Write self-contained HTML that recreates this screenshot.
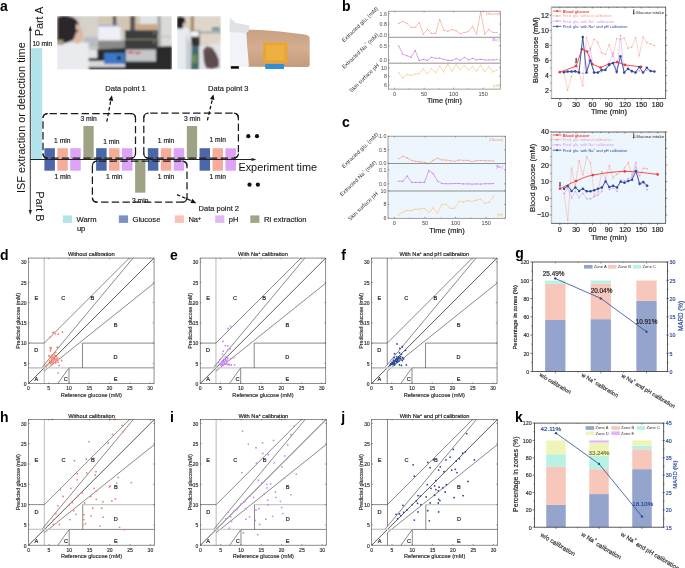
<!DOCTYPE html>
<html><head><meta charset="utf-8"><style>
html,body{margin:0;padding:0;background:#fff;}
body{width:685px;height:568px;overflow:hidden;}
svg{display:block;font-family:"Liberation Sans", sans-serif;will-change:transform;}
</style></head><body>
<svg width="685" height="568" viewBox="0 0 685 568">
<defs>
<filter id="bl" x="-5%" y="-5%" width="110%" height="110%"><feGaussianBlur stdDeviation="0.8"/></filter>
<filter id="bl2" x="-5%" y="-5%" width="110%" height="110%"><feGaussianBlur stdDeviation="0.5"/></filter>
<clipPath id="cp1"><rect x="57" y="16" width="115" height="53.5"/></clipPath>
<clipPath id="cp2"><rect x="177" y="16" width="44" height="53.5"/></clipPath>
</defs>
<text x="0.00" y="11.20" font-size="14" text-anchor="start" fill="#000" font-weight="bold">a</text>
<g clip-path="url(#cp1)"><g filter="url(#bl)">
<rect x="57.00" y="16.00" width="115.00" height="54.00" fill="#cfcac2"/>
<rect x="80.00" y="16.00" width="18.00" height="30.00" fill="#d6d2ca"/>
<rect x="98.20" y="16.00" width="59.40" height="15.00" fill="#d1c7b2"/>
<rect x="140.00" y="16.00" width="17.00" height="12.00" fill="#dfe3e6"/>
<rect x="136.00" y="24.00" width="21.00" height="6.00" fill="#c9a98a"/>
<rect x="112.80" y="16.00" width="3.50" height="15.00" fill="#5e574f"/>
<rect x="130.00" y="16.00" width="5.20" height="15.00" fill="#5e574f"/>
<rect x="157.60" y="16.00" width="14.20" height="46.00" fill="#dadad8"/>
<rect x="157.60" y="16.00" width="3.20" height="46.00" fill="#a4a4a2"/>
<rect x="157.60" y="36.00" width="14.20" height="1.20" fill="#bcbcba"/>
<rect x="98.20" y="25.30" width="22.40" height="15.50" fill="#eef0f6"/>
<rect x="98.20" y="25.30" width="22.40" height="1.00" fill="#6c8fd0"/>
<rect x="98.20" y="40.50" width="27.00" height="9.00" fill="#8a8a88"/>
<rect x="84.00" y="37.00" width="14.00" height="10.00" fill="#b8bcc4"/>
<path d="M85,50 L172,46 L172,70 L85,70 Z" fill="#2b2b2b"/>
<rect x="87.00" y="61.00" width="38.00" height="6.00" fill="#d8d8d8"/>
<rect x="124.90" y="30.20" width="32.70" height="19.30" fill="#3d3d3d"/>
<rect x="124.90" y="38.80" width="32.70" height="1.30" fill="#857b6b"/>
<circle cx="154.00" cy="33.00" r="0.9" fill="#4fb36b"/>
<circle cx="154.00" cy="42.00" r="0.9" fill="#4fb36b"/>
<rect x="125.80" y="49.50" width="30.10" height="12.00" fill="#c3c7cb"/>
<rect x="128.00" y="51.50" width="5.50" height="1.90" fill="#d43a3a"/>
<rect x="135.00" y="52.00" width="5.50" height="1.90" fill="#d43a3a"/>
<rect x="104.20" y="52.90" width="20.70" height="11.20" fill="#3a78c8"/>
<circle cx="118.90" cy="58.10" r="2.0" fill="#1c1c1c"/>
<rect x="57.00" y="42.60" width="31.70" height="27.40" fill="#e9ebef"/>
<rect x="88.00" y="49.50" width="9.30" height="8.50" fill="#e4e6ea"/>
<path d="M57.4,17 Q64,15 72,17 Q79,20 79,27 L77,34 L73,40 L66,43 L57.4,44 Z" fill="#29262a"/>
<path d="M76,24 Q81,25 82.5,31 L83,38 Q81,43 77,44 L73,41 L76,33 Z" fill="#d9b8a4"/>
<circle cx="77.00" cy="31.00" r="1.3" fill="#3a3a3a"/>
<rect x="57.40" y="40.00" width="6.00" height="5.00" fill="#a89a86"/>
</g></g>
<g clip-path="url(#cp2)"><g filter="url(#bl)">
<rect x="177.00" y="16.00" width="44.00" height="54.00" fill="#d9d1c2"/>
<rect x="193.90" y="16.00" width="27.10" height="28.00" fill="#ddd6c9"/>
<rect x="190.80" y="16.00" width="3.10" height="15.00" fill="#a98358"/>
<rect x="212.00" y="27.00" width="8.00" height="4.00" fill="#7f9c98"/>
<rect x="197.00" y="31.50" width="24.00" height="1.80" fill="#9ea2a2"/>
<rect x="189.60" y="30.60" width="10.00" height="7.00" fill="#3c3f44"/>
<rect x="190.40" y="31.20" width="8.40" height="5.40" fill="#f4f5f7"/>
<rect x="189.30" y="37.50" width="10.40" height="9.20" fill="#2e3032"/>
<rect x="190.00" y="46.70" width="9.50" height="23.00" fill="#456b6c"/>
<rect x="192.00" y="55.00" width="5.00" height="8.00" fill="#6e8e4e"/>
<path d="M199,46 L221,43 L221,70 L199,70 Z" fill="#e3e3e7"/>
<path d="M203,50 L207,46.5 L212,47.5 L216,53 L219,60 L219,67 L212,69 L206,68 L204,62 Z" fill="#5b4b4f"/>
<ellipse cx="207.5" cy="49" rx="3" ry="2.6" fill="#6d5545"/>
<path d="M177,28.5 L186,27 L190,30 L191.5,45 L191,70 L177,70 Z" fill="#e7eaef"/>
<path d="M186,34 L191.5,45 L191,70 L186,70 Z" fill="#c9ced6"/>
<path d="M177,17 Q181,15.5 185,18 L185.5,25 L182,28.5 L177,28.5 Z" fill="#1f1f21"/>
<ellipse cx="184.5" cy="25" rx="1.8" ry="2.6" fill="#d9c2b3"/>
</g></g>
<g filter="url(#bl2)">
<defs><linearGradient id="skin" x1="0" y1="0" x2="0" y2="1"><stop offset="0" stop-color="#c9a082"/><stop offset="0.5" stop-color="#d4ae91"/><stop offset="1" stop-color="#c39a7c"/></linearGradient></defs>
<path d="M246,29.5 C262,29.8 285,31.5 303,34.2 Q309.5,34.8 309.7,38 L309.7,65.5 Q309,67.5 305,67 L248,66.8 Z" fill="url(#skin)"/>
<path d="M229.8,18 L236,23 L249.5,25.5 L248.5,31 L246,33 L249,66.5 L229.8,66.8 Z" fill="#f1f3f6"/>
<path d="M229.8,18 L236,23 L249.5,25.5 L248.5,31 L246,33 L229.8,32 Z" fill="#dfe2e6"/>
<rect x="263.20" y="42.40" width="24.30" height="20.90" fill="#e9a530" rx="0.8"/>
<rect x="266.00" y="45.00" width="18.50" height="15.00" fill="#eeb041" rx="0.8"/>
<rect x="265.10" y="64.00" width="19.00" height="5.10" fill="#2f8fd6" rx="1"/>
</g>
<rect x="230.80" y="66.20" width="8.10" height="2.50" fill="#000"/>
<line x1="30.30" y1="28.50" x2="30.30" y2="212.50" stroke="#222" stroke-width="0.9"/>
<polygon points="30.30,25.80 31.90,30.80 28.70,30.80" fill="#222"/>
<polygon points="30.30,215.00 28.70,210.00 31.90,210.00" fill="#222"/>
<rect x="31.20" y="48.20" width="11.00" height="111.30" fill="#b3e3ea"/>
<line x1="30.30" y1="159.50" x2="253.00" y2="159.50" stroke="#222" stroke-width="1.0"/>
<polygon points="256.50,159.50 251.50,161.10 251.50,157.90" fill="#222"/>
<rect x="44.40" y="148.20" width="10.50" height="22.50" fill="#4c67a8"/>
<rect x="57.33" y="148.20" width="10.50" height="22.50" fill="#f5ac9b"/>
<rect x="70.26" y="148.20" width="10.50" height="22.50" fill="#dea3f5"/>
<rect x="83.39" y="126.00" width="10.30" height="33.50" fill="#9fa385"/>
<rect x="96.12" y="148.20" width="10.50" height="22.50" fill="#4c67a8"/>
<rect x="109.05" y="148.20" width="10.50" height="22.50" fill="#f5ac9b"/>
<rect x="121.98" y="148.20" width="10.50" height="22.50" fill="#dea3f5"/>
<rect x="135.11" y="159.50" width="10.30" height="33.20" fill="#9fa385"/>
<rect x="147.84" y="148.20" width="10.50" height="22.50" fill="#4c67a8"/>
<rect x="160.77" y="148.20" width="10.50" height="22.50" fill="#f5ac9b"/>
<rect x="173.70" y="148.20" width="10.50" height="22.50" fill="#dea3f5"/>
<rect x="186.83" y="126.00" width="10.30" height="33.50" fill="#9fa385"/>
<rect x="199.56" y="148.20" width="10.50" height="22.50" fill="#4c67a8"/>
<rect x="212.49" y="148.20" width="10.50" height="22.50" fill="#f5ac9b"/>
<rect x="225.42" y="148.20" width="10.50" height="22.50" fill="#dea3f5"/>
<line x1="30.30" y1="159.50" x2="253.00" y2="159.50" stroke="#222" stroke-width="1.0"/>
<text x="62.28" y="143.10" font-size="6.7" text-anchor="middle" fill="#222" stroke="#222" stroke-width="0.18">1 min</text>
<text x="62.58" y="179.10" font-size="6.7" text-anchor="middle" fill="#222" stroke="#222" stroke-width="0.18">1 min</text>
<text x="111.40" y="143.80" font-size="6.7" text-anchor="middle" fill="#222" stroke="#222" stroke-width="0.18">1 min</text>
<text x="114.30" y="179.10" font-size="6.7" text-anchor="middle" fill="#222" stroke="#222" stroke-width="0.18">1 min</text>
<text x="166.02" y="142.60" font-size="6.7" text-anchor="middle" fill="#222" stroke="#222" stroke-width="0.18">1 min</text>
<text x="166.02" y="179.10" font-size="6.7" text-anchor="middle" fill="#222" stroke="#222" stroke-width="0.18">1 min</text>
<text x="217.74" y="142.40" font-size="6.7" text-anchor="middle" fill="#222" stroke="#222" stroke-width="0.18">1 min</text>
<text x="217.74" y="179.10" font-size="6.7" text-anchor="middle" fill="#222" stroke="#222" stroke-width="0.18">1 min</text>
<text x="88.60" y="121.30" font-size="6.7" text-anchor="middle" fill="#222" stroke="#222" stroke-width="0.18">3 min</text>
<text x="192.20" y="121.30" font-size="6.7" text-anchor="middle" fill="#222" stroke="#222" stroke-width="0.18">3 min</text>
<text x="140.20" y="203.00" font-size="6.7" text-anchor="middle" fill="#222" stroke="#222" stroke-width="0.18">3 min</text>
<text x="32.40" y="46.10" font-size="6.6" text-anchor="start" fill="#222" stroke="#222" stroke-width="0.18">10 min</text>
<rect x="43.0" y="113.5" width="92.5" height="44.6" rx="4.5" stroke="#1a1a1a" stroke-width="1.25" stroke-dasharray="7.4 3.3" stroke-dashoffset="-2" fill="none"/>
<path d="M43.00,118.00 C43.00,115.51 45.01,113.50 47.50,113.50" stroke="#1a1a1a" stroke-width="1.25" fill="none"/>
<path d="M135.50,118.00 C135.50,115.51 133.49,113.50 131.00,113.50" stroke="#1a1a1a" stroke-width="1.25" fill="none"/>
<path d="M43.00,153.60 C43.00,156.09 45.01,158.10 47.50,158.10" stroke="#1a1a1a" stroke-width="1.25" fill="none"/>
<path d="M135.50,153.60 C135.50,156.09 133.49,158.10 131.00,158.10" stroke="#1a1a1a" stroke-width="1.25" fill="none"/>
<rect x="143.8" y="113.2" width="94.6" height="44.8" rx="4.5" stroke="#1a1a1a" stroke-width="1.25" stroke-dasharray="7.4 3.3" stroke-dashoffset="-2" fill="none"/>
<path d="M143.80,117.70 C143.80,115.21 145.81,113.20 148.30,113.20" stroke="#1a1a1a" stroke-width="1.25" fill="none"/>
<path d="M238.40,117.70 C238.40,115.21 236.39,113.20 233.90,113.20" stroke="#1a1a1a" stroke-width="1.25" fill="none"/>
<path d="M143.80,153.50 C143.80,155.99 145.81,158.00 148.30,158.00" stroke="#1a1a1a" stroke-width="1.25" fill="none"/>
<path d="M238.40,153.50 C238.40,155.99 236.39,158.00 233.90,158.00" stroke="#1a1a1a" stroke-width="1.25" fill="none"/>
<rect x="92.4" y="161.2" width="94.6" height="40.9" rx="4.5" stroke="#1a1a1a" stroke-width="1.25" stroke-dasharray="7.4 3.3" stroke-dashoffset="-2" fill="none"/>
<path d="M92.40,165.70 C92.40,163.21 94.41,161.20 96.90,161.20" stroke="#1a1a1a" stroke-width="1.25" fill="none"/>
<path d="M187.00,165.70 C187.00,163.21 184.99,161.20 182.50,161.20" stroke="#1a1a1a" stroke-width="1.25" fill="none"/>
<path d="M92.40,197.60 C92.40,200.09 94.41,202.10 96.90,202.10" stroke="#1a1a1a" stroke-width="1.25" fill="none"/>
<path d="M187.00,197.60 C187.00,200.09 184.99,202.10 182.50,202.10" stroke="#1a1a1a" stroke-width="1.25" fill="none"/>
<line x1="106.80" y1="121.70" x2="110.80" y2="100.50" stroke="#111" stroke-width="1.25" stroke-dasharray="3.5 2.2"/>
<polygon points="111.90,95.20 113.12,101.04 108.60,100.17" fill="#111"/>
<line x1="207.40" y1="120.40" x2="212.30" y2="99.50" stroke="#111" stroke-width="1.25" stroke-dasharray="3.5 2.2"/>
<polygon points="213.40,94.20 214.41,100.07 209.93,99.05" fill="#111"/>
<line x1="177.00" y1="194.60" x2="191.50" y2="200.80" stroke="#111" stroke-width="1.25" stroke-dasharray="3.5 2.2"/>
<polygon points="196.40,203.20 190.44,203.07 192.30,198.87" fill="#111"/>
<text x="105.30" y="90.80" font-size="7.5" text-anchor="start" fill="#222" stroke="#222" stroke-width="0.18">Data point 1</text>
<text x="208.10" y="90.80" font-size="7.5" text-anchor="start" fill="#222" stroke="#222" stroke-width="0.18">Data point 3</text>
<text x="198.60" y="210.80" font-size="7.5" text-anchor="start" fill="#222" stroke="#222" stroke-width="0.18">Data point 2</text>
<circle cx="248.30" cy="136.20" r="2.1" fill="#111"/>
<circle cx="257.00" cy="136.20" r="2.1" fill="#111"/>
<circle cx="249.50" cy="184.70" r="2.1" fill="#111"/>
<circle cx="257.90" cy="184.70" r="2.1" fill="#111"/>
<text x="238.40" y="171.00" font-size="10.9" text-anchor="start" fill="#111">Experiment time</text>
<text x="24.60" y="117.60" font-size="10.9" text-anchor="middle" fill="#111" transform="rotate(-90 24.60 117.60)">ISF extraction or detection time</text>
<text x="43.00" y="21.50" font-size="10.9" text-anchor="middle" fill="#111" transform="rotate(-90 43.00 21.50)">Part A</text>
<text x="35.60" y="206.50" font-size="10.9" text-anchor="middle" fill="#111" transform="rotate(90 35.60 206.50)">Part B</text>
<rect x="62.90" y="215.40" width="9.10" height="7.50" fill="#b3e3ea"/>
<text x="76.50" y="222.40" font-size="7.6" text-anchor="start" fill="#222" stroke="#222" stroke-width="0.18">Warm</text>
<rect x="118.90" y="215.40" width="9.10" height="7.50" fill="#7d8fc3"/>
<text x="132.50" y="222.40" font-size="7.6" text-anchor="start" fill="#222" stroke="#222" stroke-width="0.18">Glucose</text>
<rect x="174.80" y="215.40" width="9.10" height="7.50" fill="#f7c3b7"/>
<text x="188.40" y="222.40" font-size="7.6" text-anchor="start" fill="#222" stroke="#222" stroke-width="0.18">Na<tspan font-size="5" dy="-2.5">+</tspan></text>
<rect x="215.20" y="215.40" width="9.10" height="7.50" fill="#e3b7f5"/>
<text x="228.80" y="222.40" font-size="7.6" text-anchor="start" fill="#222" stroke="#222" stroke-width="0.18">pH</text>
<rect x="250.30" y="215.40" width="9.10" height="7.50" fill="#a1a586"/>
<text x="263.90" y="222.40" font-size="7.6" text-anchor="start" fill="#222" stroke="#222" stroke-width="0.18">RI extraction</text>
<text x="76.90" y="230.60" font-size="7.6" text-anchor="start" fill="#222" stroke="#222" stroke-width="0.18">up</text>
<text x="342.00" y="11.20" font-size="14" text-anchor="start" fill="#000" font-weight="bold">b</text>
<polyline points="398.70,23.40 402.80,21.30 406.90,23.40 411.00,27.30 415.10,27.30 419.20,22.50 423.30,34.30 427.40,29.40 431.50,33.40 435.60,33.40 439.70,19.40 443.80,30.20 447.90,31.30 452.00,29.50 456.10,30.80 460.20,33.70 464.30,32.50 468.40,31.60 472.50,26.40 476.60,34.30 480.70,11.50 484.80,34.30 488.90,29.40 493.00,32.50 497.10,32.50" fill="none" stroke="#f49784" stroke-width="0.6"/>
<circle cx="398.70" cy="23.40" r="0.55" fill="#f49784"/>
<circle cx="402.80" cy="21.30" r="0.55" fill="#f49784"/>
<circle cx="406.90" cy="23.40" r="0.55" fill="#f49784"/>
<circle cx="411.00" cy="27.30" r="0.55" fill="#f49784"/>
<circle cx="415.10" cy="27.30" r="0.55" fill="#f49784"/>
<circle cx="419.20" cy="22.50" r="0.55" fill="#f49784"/>
<circle cx="423.30" cy="34.30" r="0.55" fill="#f49784"/>
<circle cx="427.40" cy="29.40" r="0.55" fill="#f49784"/>
<circle cx="431.50" cy="33.40" r="0.55" fill="#f49784"/>
<circle cx="435.60" cy="33.40" r="0.55" fill="#f49784"/>
<circle cx="439.70" cy="19.40" r="0.55" fill="#f49784"/>
<circle cx="443.80" cy="30.20" r="0.55" fill="#f49784"/>
<circle cx="447.90" cy="31.30" r="0.55" fill="#f49784"/>
<circle cx="452.00" cy="29.50" r="0.55" fill="#f49784"/>
<circle cx="456.10" cy="30.80" r="0.55" fill="#f49784"/>
<circle cx="460.20" cy="33.70" r="0.55" fill="#f49784"/>
<circle cx="464.30" cy="32.50" r="0.55" fill="#f49784"/>
<circle cx="468.40" cy="31.60" r="0.55" fill="#f49784"/>
<circle cx="472.50" cy="26.40" r="0.55" fill="#f49784"/>
<circle cx="476.60" cy="34.30" r="0.55" fill="#f49784"/>
<circle cx="480.70" cy="11.50" r="0.55" fill="#f49784"/>
<circle cx="484.80" cy="34.30" r="0.55" fill="#f49784"/>
<circle cx="488.90" cy="29.40" r="0.55" fill="#f49784"/>
<circle cx="493.00" cy="32.50" r="0.55" fill="#f49784"/>
<circle cx="497.10" cy="32.50" r="0.55" fill="#f49784"/>
<polyline points="398.70,45.90 402.80,54.30 406.90,55.70 411.00,57.40 415.10,50.40 419.20,60.40 423.30,59.50 427.40,60.40 431.50,57.20 435.60,58.30 439.70,58.10 443.80,59.50 447.90,60.40 452.00,60.40 456.10,58.60 460.20,60.40 464.30,57.20 468.40,60.00 472.50,58.30 476.60,60.00 480.70,59.20 484.80,60.00 488.90,59.90 493.00,59.90 497.10,59.50" fill="none" stroke="#c466f2" stroke-width="0.6"/>
<circle cx="398.70" cy="45.90" r="0.55" fill="#c466f2"/>
<circle cx="402.80" cy="54.30" r="0.55" fill="#c466f2"/>
<circle cx="406.90" cy="55.70" r="0.55" fill="#c466f2"/>
<circle cx="411.00" cy="57.40" r="0.55" fill="#c466f2"/>
<circle cx="415.10" cy="50.40" r="0.55" fill="#c466f2"/>
<circle cx="419.20" cy="60.40" r="0.55" fill="#c466f2"/>
<circle cx="423.30" cy="59.50" r="0.55" fill="#c466f2"/>
<circle cx="427.40" cy="60.40" r="0.55" fill="#c466f2"/>
<circle cx="431.50" cy="57.20" r="0.55" fill="#c466f2"/>
<circle cx="435.60" cy="58.30" r="0.55" fill="#c466f2"/>
<circle cx="439.70" cy="58.10" r="0.55" fill="#c466f2"/>
<circle cx="443.80" cy="59.50" r="0.55" fill="#c466f2"/>
<circle cx="447.90" cy="60.40" r="0.55" fill="#c466f2"/>
<circle cx="452.00" cy="60.40" r="0.55" fill="#c466f2"/>
<circle cx="456.10" cy="58.60" r="0.55" fill="#c466f2"/>
<circle cx="460.20" cy="60.40" r="0.55" fill="#c466f2"/>
<circle cx="464.30" cy="57.20" r="0.55" fill="#c466f2"/>
<circle cx="468.40" cy="60.00" r="0.55" fill="#c466f2"/>
<circle cx="472.50" cy="58.30" r="0.55" fill="#c466f2"/>
<circle cx="476.60" cy="60.00" r="0.55" fill="#c466f2"/>
<circle cx="480.70" cy="59.20" r="0.55" fill="#c466f2"/>
<circle cx="484.80" cy="60.00" r="0.55" fill="#c466f2"/>
<circle cx="488.90" cy="59.90" r="0.55" fill="#c466f2"/>
<circle cx="493.00" cy="59.90" r="0.55" fill="#c466f2"/>
<circle cx="497.10" cy="59.50" r="0.55" fill="#c466f2"/>
<polyline points="398.70,72.60 402.80,78.00 406.90,74.50 411.00,75.40 415.10,74.00 419.20,73.70 423.30,68.80 427.40,73.70 431.50,68.40 435.60,72.80 439.70,66.10 443.80,71.90 447.90,63.90 452.00,70.90 456.10,64.70 460.20,69.60 464.30,65.30 468.40,70.00 472.50,66.50 476.60,70.90 480.70,65.30 484.80,71.70 488.90,66.50 493.00,71.90 497.10,70.00" fill="none" stroke="#f8c26c" stroke-width="0.6"/>
<circle cx="398.70" cy="72.60" r="0.55" fill="#f8c26c"/>
<circle cx="402.80" cy="78.00" r="0.55" fill="#f8c26c"/>
<circle cx="406.90" cy="74.50" r="0.55" fill="#f8c26c"/>
<circle cx="411.00" cy="75.40" r="0.55" fill="#f8c26c"/>
<circle cx="415.10" cy="74.00" r="0.55" fill="#f8c26c"/>
<circle cx="419.20" cy="73.70" r="0.55" fill="#f8c26c"/>
<circle cx="423.30" cy="68.80" r="0.55" fill="#f8c26c"/>
<circle cx="427.40" cy="73.70" r="0.55" fill="#f8c26c"/>
<circle cx="431.50" cy="68.40" r="0.55" fill="#f8c26c"/>
<circle cx="435.60" cy="72.80" r="0.55" fill="#f8c26c"/>
<circle cx="439.70" cy="66.10" r="0.55" fill="#f8c26c"/>
<circle cx="443.80" cy="71.90" r="0.55" fill="#f8c26c"/>
<circle cx="447.90" cy="63.90" r="0.55" fill="#f8c26c"/>
<circle cx="452.00" cy="70.90" r="0.55" fill="#f8c26c"/>
<circle cx="456.10" cy="64.70" r="0.55" fill="#f8c26c"/>
<circle cx="460.20" cy="69.60" r="0.55" fill="#f8c26c"/>
<circle cx="464.30" cy="65.30" r="0.55" fill="#f8c26c"/>
<circle cx="468.40" cy="70.00" r="0.55" fill="#f8c26c"/>
<circle cx="472.50" cy="66.50" r="0.55" fill="#f8c26c"/>
<circle cx="476.60" cy="70.90" r="0.55" fill="#f8c26c"/>
<circle cx="480.70" cy="65.30" r="0.55" fill="#f8c26c"/>
<circle cx="484.80" cy="71.70" r="0.55" fill="#f8c26c"/>
<circle cx="488.90" cy="66.50" r="0.55" fill="#f8c26c"/>
<circle cx="493.00" cy="71.90" r="0.55" fill="#f8c26c"/>
<circle cx="497.10" cy="70.00" r="0.55" fill="#f8c26c"/>
<rect x="388.5" y="11.2" width="111.80" height="77.90" fill="none" stroke="#777" stroke-width="0.7"/>
<line x1="388.50" y1="37.30" x2="500.30" y2="37.30" stroke="#777" stroke-width="0.8"/>
<line x1="388.50" y1="63.20" x2="500.30" y2="63.20" stroke="#777" stroke-width="0.8"/>
<line x1="394.60" y1="89.10" x2="394.60" y2="87.60" stroke="#555" stroke-width="0.5"/>
<line x1="394.60" y1="11.20" x2="394.60" y2="12.40" stroke="#555" stroke-width="0.5"/>
<text x="394.60" y="95.80" font-size="5.6" text-anchor="middle" fill="#444" stroke="none">0</text>
<line x1="424.10" y1="89.10" x2="424.10" y2="87.60" stroke="#555" stroke-width="0.5"/>
<line x1="424.10" y1="11.20" x2="424.10" y2="12.40" stroke="#555" stroke-width="0.5"/>
<text x="424.10" y="95.80" font-size="5.6" text-anchor="middle" fill="#444" stroke="none">50</text>
<line x1="453.60" y1="89.10" x2="453.60" y2="87.60" stroke="#555" stroke-width="0.5"/>
<line x1="453.60" y1="11.20" x2="453.60" y2="12.40" stroke="#555" stroke-width="0.5"/>
<text x="453.60" y="95.80" font-size="5.6" text-anchor="middle" fill="#444" stroke="none">100</text>
<line x1="483.10" y1="89.10" x2="483.10" y2="87.60" stroke="#555" stroke-width="0.5"/>
<line x1="483.10" y1="11.20" x2="483.10" y2="12.40" stroke="#555" stroke-width="0.5"/>
<text x="483.10" y="95.80" font-size="5.6" text-anchor="middle" fill="#444" stroke="none">150</text>
<line x1="409.35" y1="89.10" x2="409.35" y2="88.20" stroke="#555" stroke-width="0.4"/>
<line x1="438.85" y1="89.10" x2="438.85" y2="88.20" stroke="#555" stroke-width="0.4"/>
<line x1="468.35" y1="89.10" x2="468.35" y2="88.20" stroke="#555" stroke-width="0.4"/>
<line x1="388.50" y1="13.60" x2="389.80" y2="13.60" stroke="#555" stroke-width="0.5"/>
<line x1="500.30" y1="13.60" x2="499.00" y2="13.60" stroke="#555" stroke-width="0.5"/>
<text x="386.90" y="15.50" font-size="5.3" text-anchor="end" fill="#444" stroke="none">1.6</text>
<line x1="388.50" y1="24.10" x2="389.80" y2="24.10" stroke="#555" stroke-width="0.5"/>
<line x1="500.30" y1="24.10" x2="499.00" y2="24.10" stroke="#555" stroke-width="0.5"/>
<text x="386.90" y="26.00" font-size="5.3" text-anchor="end" fill="#444" stroke="none">0.8</text>
<line x1="388.50" y1="34.60" x2="389.80" y2="34.60" stroke="#555" stroke-width="0.5"/>
<line x1="500.30" y1="34.60" x2="499.00" y2="34.60" stroke="#555" stroke-width="0.5"/>
<text x="386.90" y="36.50" font-size="5.3" text-anchor="end" fill="#444" stroke="none">0.0</text>
<line x1="388.50" y1="45.90" x2="389.80" y2="45.90" stroke="#555" stroke-width="0.5"/>
<line x1="500.30" y1="45.90" x2="499.00" y2="45.90" stroke="#555" stroke-width="0.5"/>
<text x="386.90" y="47.80" font-size="5.3" text-anchor="end" fill="#444" stroke="none">0.5</text>
<line x1="388.50" y1="60.00" x2="389.80" y2="60.00" stroke="#555" stroke-width="0.5"/>
<line x1="500.30" y1="60.00" x2="499.00" y2="60.00" stroke="#555" stroke-width="0.5"/>
<text x="386.90" y="61.90" font-size="5.3" text-anchor="end" fill="#444" stroke="none">0.0</text>
<line x1="388.50" y1="67.60" x2="389.80" y2="67.60" stroke="#555" stroke-width="0.5"/>
<line x1="500.30" y1="67.60" x2="499.00" y2="67.60" stroke="#555" stroke-width="0.5"/>
<text x="386.90" y="69.50" font-size="5.3" text-anchor="end" fill="#444" stroke="none">10</text>
<line x1="388.50" y1="76.30" x2="389.80" y2="76.30" stroke="#555" stroke-width="0.5"/>
<line x1="500.30" y1="76.30" x2="499.00" y2="76.30" stroke="#555" stroke-width="0.5"/>
<text x="386.90" y="78.20" font-size="5.3" text-anchor="end" fill="#444" stroke="none">8</text>
<line x1="388.50" y1="85.00" x2="389.80" y2="85.00" stroke="#555" stroke-width="0.5"/>
<line x1="500.30" y1="85.00" x2="499.00" y2="85.00" stroke="#555" stroke-width="0.5"/>
<text x="386.90" y="86.90" font-size="5.3" text-anchor="end" fill="#444" stroke="none">6</text>
<text x="444.40" y="103.30" font-size="7.4" text-anchor="middle" fill="#222" stroke="#222" stroke-width="0.18">Time (min)</text>
<text x="499.50" y="15.00" font-size="3.2" text-anchor="end" fill="#f49784">[Glucose]</text>
<text x="499.30" y="41.40" font-size="3.2" text-anchor="end" fill="#c466f2">[Na<tspan font-size="2.2" dy="-1">+</tspan><tspan dy="1">]</tspan></text>
<text x="499.00" y="87.00" font-size="3.2" text-anchor="end" fill="#f8c26c">[pH]</text>
<text x="359.90" y="24.40" font-size="5.5" text-anchor="middle" dominant-baseline="central" fill="#333" stroke="none" transform="rotate(-44 359.90 24.40)">Extracted glu. (mM)</text>
<text x="360.20" y="50.90" font-size="5.5" text-anchor="middle" dominant-baseline="central" fill="#333" stroke="none" transform="rotate(-44 360.20 50.90)">Extracted Na<tspan font-size="3.6" dy="-2">+</tspan><tspan dy="2"> (mM)</tspan></text>
<text x="364.10" y="77.80" font-size="5.5" text-anchor="middle" dominant-baseline="central" fill="#333" stroke="none" transform="rotate(-44 364.10 77.80)">Skin surface pH</text>
<text x="342.00" y="126.90" font-size="14" text-anchor="start" fill="#000" font-weight="bold">c</text>
<rect x="388.00" y="136.20" width="117.40" height="82.10" fill="#edf5fd"/>
<polyline points="398.60,158.80 402.92,156.20 407.24,157.90 411.56,160.40 415.88,161.30 420.20,161.90 424.52,162.30 428.84,163.40 433.16,160.40 437.48,158.10 441.80,160.00 446.12,160.00 450.44,160.70 454.76,161.30 459.08,160.00 463.40,160.40 467.72,160.40 472.04,161.50 476.36,160.70 480.68,160.40 485.00,160.70 489.32,160.70 493.64,160.90" fill="none" stroke="#f49784" stroke-width="0.6"/>
<circle cx="398.60" cy="158.80" r="0.55" fill="#f49784"/>
<circle cx="402.92" cy="156.20" r="0.55" fill="#f49784"/>
<circle cx="407.24" cy="157.90" r="0.55" fill="#f49784"/>
<circle cx="411.56" cy="160.40" r="0.55" fill="#f49784"/>
<circle cx="415.88" cy="161.30" r="0.55" fill="#f49784"/>
<circle cx="420.20" cy="161.90" r="0.55" fill="#f49784"/>
<circle cx="424.52" cy="162.30" r="0.55" fill="#f49784"/>
<circle cx="428.84" cy="163.40" r="0.55" fill="#f49784"/>
<circle cx="433.16" cy="160.40" r="0.55" fill="#f49784"/>
<circle cx="437.48" cy="158.10" r="0.55" fill="#f49784"/>
<circle cx="441.80" cy="160.00" r="0.55" fill="#f49784"/>
<circle cx="446.12" cy="160.00" r="0.55" fill="#f49784"/>
<circle cx="450.44" cy="160.70" r="0.55" fill="#f49784"/>
<circle cx="454.76" cy="161.30" r="0.55" fill="#f49784"/>
<circle cx="459.08" cy="160.00" r="0.55" fill="#f49784"/>
<circle cx="463.40" cy="160.40" r="0.55" fill="#f49784"/>
<circle cx="467.72" cy="160.40" r="0.55" fill="#f49784"/>
<circle cx="472.04" cy="161.50" r="0.55" fill="#f49784"/>
<circle cx="476.36" cy="160.70" r="0.55" fill="#f49784"/>
<circle cx="480.68" cy="160.40" r="0.55" fill="#f49784"/>
<circle cx="485.00" cy="160.70" r="0.55" fill="#f49784"/>
<circle cx="489.32" cy="160.70" r="0.55" fill="#f49784"/>
<circle cx="493.64" cy="160.90" r="0.55" fill="#f49784"/>
<polyline points="398.60,181.20 402.92,181.20 407.24,175.90 411.56,182.40 415.88,182.40 420.20,182.40 424.52,182.40 428.84,170.40 433.16,173.60 437.48,180.90 441.80,183.50 446.12,183.70 450.44,183.70 454.76,183.50 459.08,183.50 463.40,183.90 467.72,183.90 472.04,184.10 476.36,183.90 480.68,184.10 485.00,183.70 489.32,183.70 493.64,183.50" fill="none" stroke="#c466f2" stroke-width="0.6"/>
<circle cx="398.60" cy="181.20" r="0.55" fill="#c466f2"/>
<circle cx="402.92" cy="181.20" r="0.55" fill="#c466f2"/>
<circle cx="407.24" cy="175.90" r="0.55" fill="#c466f2"/>
<circle cx="411.56" cy="182.40" r="0.55" fill="#c466f2"/>
<circle cx="415.88" cy="182.40" r="0.55" fill="#c466f2"/>
<circle cx="420.20" cy="182.40" r="0.55" fill="#c466f2"/>
<circle cx="424.52" cy="182.40" r="0.55" fill="#c466f2"/>
<circle cx="428.84" cy="170.40" r="0.55" fill="#c466f2"/>
<circle cx="433.16" cy="173.60" r="0.55" fill="#c466f2"/>
<circle cx="437.48" cy="180.90" r="0.55" fill="#c466f2"/>
<circle cx="441.80" cy="183.50" r="0.55" fill="#c466f2"/>
<circle cx="446.12" cy="183.70" r="0.55" fill="#c466f2"/>
<circle cx="450.44" cy="183.70" r="0.55" fill="#c466f2"/>
<circle cx="454.76" cy="183.50" r="0.55" fill="#c466f2"/>
<circle cx="459.08" cy="183.50" r="0.55" fill="#c466f2"/>
<circle cx="463.40" cy="183.90" r="0.55" fill="#c466f2"/>
<circle cx="467.72" cy="183.90" r="0.55" fill="#c466f2"/>
<circle cx="472.04" cy="184.10" r="0.55" fill="#c466f2"/>
<circle cx="476.36" cy="183.90" r="0.55" fill="#c466f2"/>
<circle cx="480.68" cy="184.10" r="0.55" fill="#c466f2"/>
<circle cx="485.00" cy="183.70" r="0.55" fill="#c466f2"/>
<circle cx="489.32" cy="183.70" r="0.55" fill="#c466f2"/>
<circle cx="493.64" cy="183.50" r="0.55" fill="#c466f2"/>
<polyline points="398.60,214.80 402.92,212.00 407.24,210.50 411.56,210.50 415.88,209.10 420.20,209.10 424.52,208.20 428.84,212.50 433.16,207.80 437.48,213.10 441.80,204.40 446.12,204.40 450.44,208.40 454.76,208.20 459.08,201.30 463.40,202.10 467.72,200.60 472.04,201.50 476.36,200.20 480.68,199.30 485.00,203.40 489.32,202.10 493.64,196.00" fill="none" stroke="#f8c26c" stroke-width="0.6"/>
<circle cx="398.60" cy="214.80" r="0.55" fill="#f8c26c"/>
<circle cx="402.92" cy="212.00" r="0.55" fill="#f8c26c"/>
<circle cx="407.24" cy="210.50" r="0.55" fill="#f8c26c"/>
<circle cx="411.56" cy="210.50" r="0.55" fill="#f8c26c"/>
<circle cx="415.88" cy="209.10" r="0.55" fill="#f8c26c"/>
<circle cx="420.20" cy="209.10" r="0.55" fill="#f8c26c"/>
<circle cx="424.52" cy="208.20" r="0.55" fill="#f8c26c"/>
<circle cx="428.84" cy="212.50" r="0.55" fill="#f8c26c"/>
<circle cx="433.16" cy="207.80" r="0.55" fill="#f8c26c"/>
<circle cx="437.48" cy="213.10" r="0.55" fill="#f8c26c"/>
<circle cx="441.80" cy="204.40" r="0.55" fill="#f8c26c"/>
<circle cx="446.12" cy="204.40" r="0.55" fill="#f8c26c"/>
<circle cx="450.44" cy="208.40" r="0.55" fill="#f8c26c"/>
<circle cx="454.76" cy="208.20" r="0.55" fill="#f8c26c"/>
<circle cx="459.08" cy="201.30" r="0.55" fill="#f8c26c"/>
<circle cx="463.40" cy="202.10" r="0.55" fill="#f8c26c"/>
<circle cx="467.72" cy="200.60" r="0.55" fill="#f8c26c"/>
<circle cx="472.04" cy="201.50" r="0.55" fill="#f8c26c"/>
<circle cx="476.36" cy="200.20" r="0.55" fill="#f8c26c"/>
<circle cx="480.68" cy="199.30" r="0.55" fill="#f8c26c"/>
<circle cx="485.00" cy="203.40" r="0.55" fill="#f8c26c"/>
<circle cx="489.32" cy="202.10" r="0.55" fill="#f8c26c"/>
<circle cx="493.64" cy="196.00" r="0.55" fill="#f8c26c"/>
<rect x="388.0" y="136.2" width="117.40" height="82.10" fill="none" stroke="#777" stroke-width="0.7"/>
<line x1="388.00" y1="163.50" x2="505.40" y2="163.50" stroke="#777" stroke-width="0.8"/>
<line x1="388.00" y1="191.00" x2="505.40" y2="191.00" stroke="#777" stroke-width="0.8"/>
<line x1="394.40" y1="218.30" x2="394.40" y2="216.80" stroke="#555" stroke-width="0.5"/>
<line x1="394.40" y1="136.20" x2="394.40" y2="137.40" stroke="#555" stroke-width="0.5"/>
<text x="394.40" y="224.60" font-size="5.6" text-anchor="middle" fill="#444" stroke="none">0</text>
<line x1="425.00" y1="218.30" x2="425.00" y2="216.80" stroke="#555" stroke-width="0.5"/>
<line x1="425.00" y1="136.20" x2="425.00" y2="137.40" stroke="#555" stroke-width="0.5"/>
<text x="425.00" y="224.60" font-size="5.6" text-anchor="middle" fill="#444" stroke="none">50</text>
<line x1="455.60" y1="218.30" x2="455.60" y2="216.80" stroke="#555" stroke-width="0.5"/>
<line x1="455.60" y1="136.20" x2="455.60" y2="137.40" stroke="#555" stroke-width="0.5"/>
<text x="455.60" y="224.60" font-size="5.6" text-anchor="middle" fill="#444" stroke="none">100</text>
<line x1="486.20" y1="218.30" x2="486.20" y2="216.80" stroke="#555" stroke-width="0.5"/>
<line x1="486.20" y1="136.20" x2="486.20" y2="137.40" stroke="#555" stroke-width="0.5"/>
<text x="486.20" y="224.60" font-size="5.6" text-anchor="middle" fill="#444" stroke="none">150</text>
<line x1="409.70" y1="218.30" x2="409.70" y2="217.40" stroke="#555" stroke-width="0.4"/>
<line x1="440.30" y1="218.30" x2="440.30" y2="217.40" stroke="#555" stroke-width="0.4"/>
<line x1="470.90" y1="218.30" x2="470.90" y2="217.40" stroke="#555" stroke-width="0.4"/>
<line x1="388.00" y1="136.40" x2="389.30" y2="136.40" stroke="#555" stroke-width="0.5"/>
<line x1="505.40" y1="136.40" x2="504.10" y2="136.40" stroke="#555" stroke-width="0.5"/>
<text x="386.40" y="138.30" font-size="5.3" text-anchor="end" fill="#444" stroke="none">1.0</text>
<line x1="388.00" y1="149.80" x2="389.30" y2="149.80" stroke="#555" stroke-width="0.5"/>
<line x1="505.40" y1="149.80" x2="504.10" y2="149.80" stroke="#555" stroke-width="0.5"/>
<text x="386.40" y="151.70" font-size="5.3" text-anchor="end" fill="#444" stroke="none">0.5</text>
<line x1="388.00" y1="163.40" x2="389.30" y2="163.40" stroke="#555" stroke-width="0.5"/>
<line x1="505.40" y1="163.40" x2="504.10" y2="163.40" stroke="#555" stroke-width="0.5"/>
<text x="386.40" y="165.30" font-size="5.3" text-anchor="end" fill="#444" stroke="none">0.0</text>
<line x1="388.00" y1="169.80" x2="389.30" y2="169.80" stroke="#555" stroke-width="0.5"/>
<line x1="505.40" y1="169.80" x2="504.10" y2="169.80" stroke="#555" stroke-width="0.5"/>
<text x="386.40" y="171.70" font-size="5.3" text-anchor="end" fill="#444" stroke="none">0.1</text>
<line x1="388.00" y1="183.80" x2="389.30" y2="183.80" stroke="#555" stroke-width="0.5"/>
<line x1="505.40" y1="183.80" x2="504.10" y2="183.80" stroke="#555" stroke-width="0.5"/>
<text x="386.40" y="185.70" font-size="5.3" text-anchor="end" fill="#444" stroke="none">0.0</text>
<line x1="388.00" y1="190.80" x2="389.30" y2="190.80" stroke="#555" stroke-width="0.5"/>
<line x1="505.40" y1="190.80" x2="504.10" y2="190.80" stroke="#555" stroke-width="0.5"/>
<text x="386.40" y="192.70" font-size="5.3" text-anchor="end" fill="#444" stroke="none">10</text>
<line x1="388.00" y1="204.40" x2="389.30" y2="204.40" stroke="#555" stroke-width="0.5"/>
<line x1="505.40" y1="204.40" x2="504.10" y2="204.40" stroke="#555" stroke-width="0.5"/>
<text x="386.40" y="206.30" font-size="5.3" text-anchor="end" fill="#444" stroke="none">8</text>
<line x1="388.00" y1="218.10" x2="389.30" y2="218.10" stroke="#555" stroke-width="0.5"/>
<line x1="505.40" y1="218.10" x2="504.10" y2="218.10" stroke="#555" stroke-width="0.5"/>
<text x="386.40" y="220.00" font-size="5.3" text-anchor="end" fill="#444" stroke="none">6</text>
<text x="447.00" y="233.30" font-size="7.5" text-anchor="middle" fill="#222" stroke="#222" stroke-width="0.18">Time (min)</text>
<text x="503.00" y="140.80" font-size="3.2" text-anchor="end" fill="#f49784">[Glucose]</text>
<text x="503.00" y="168.20" font-size="3.2" text-anchor="end" fill="#c466f2">[Na<tspan font-size="2.2" dy="-1">+</tspan><tspan dy="1">]</tspan></text>
<text x="503.00" y="215.50" font-size="3.2" text-anchor="end" fill="#f8c26c">[pH]</text>
<text x="359.90" y="150.30" font-size="5.5" text-anchor="middle" dominant-baseline="central" fill="#333" stroke="none" transform="rotate(-44 359.90 150.30)">Extracted glu. (mM)</text>
<text x="358.00" y="178.30" font-size="5.5" text-anchor="middle" dominant-baseline="central" fill="#333" stroke="none" transform="rotate(-44 358.00 178.30)">Extracted Na<tspan font-size="3.6" dy="-2">+</tspan><tspan dy="2"> (mM)</tspan></text>
<text x="362.90" y="206.10" font-size="5.5" text-anchor="middle" dominant-baseline="central" fill="#333" stroke="none" transform="rotate(-44 362.90 206.10)">Skin surface pH</text>
<line x1="552.80" y1="11.10" x2="561.40" y2="11.10" stroke="#f23a3a" stroke-width="0.8"/>
<circle cx="557.10" cy="11.10" r="1.0" fill="#f23a3a"/>
<text x="562.7" y="12.60" font-size="3.9" fill="#f23a3a" font-weight="bold">Blood glucose</text>
<line x1="552.80" y1="15.90" x2="561.40" y2="15.90" stroke="#f7a89a" stroke-width="0.8"/>
<circle cx="557.10" cy="15.90" r="1.0" fill="#f7a89a"/>
<text x="562.7" y="17.40" font-size="3.9" fill="#f7a89a">Pred. glu. without calibration</text>
<line x1="552.80" y1="21.10" x2="561.40" y2="21.10" stroke="#d59af5" stroke-width="0.8"/>
<circle cx="557.10" cy="21.10" r="1.0" fill="#d59af5"/>
<text x="562.7" y="22.60" font-size="3.9" fill="#d59af5">Pred. glu. with Na<tspan font-size="2.8" dy="-1.4">+</tspan><tspan dy="1.4"> calibration</tspan></text>
<line x1="552.80" y1="26.40" x2="561.40" y2="26.40" stroke="#2a4a9a" stroke-width="0.8"/>
<circle cx="557.10" cy="26.40" r="1.0" fill="#2a4a9a"/>
<text x="562.7" y="27.90" font-size="3.9" fill="#2a4a9a">Pred. glu. with Na<tspan font-size="2.8" dy="-1.4">+</tspan><tspan dy="1.4"> and pH calibration</tspan></text>
<rect x="633.10" y="9.50" width="1.20" height="3.60" fill="#555"/>
<polygon points="632.60,13.10 634.80,13.10 633.70,14.80" fill="#333"/>
<text x="635.60" y="13.90" font-size="4.3" text-anchor="start" fill="#222">Glucose intake</text>
<polyline points="563.90,72.20 567.67,90.30 571.44,76.50 575.21,62.50 578.98,72.00 582.75,85.80 586.52,37.50 590.29,50.00 594.06,39.20 597.83,42.60 601.60,52.90 605.37,54.30 609.14,44.80 612.91,56.30 616.68,38.60 620.45,39.70 624.22,38.00 627.99,48.30 631.76,47.00 635.53,37.80 639.30,55.80 643.07,37.10 646.84,42.60 650.61,44.00 654.38,45.50" fill="none" stroke="#f7a89a" stroke-width="0.5"/>
<circle cx="563.90" cy="72.20" r="0.8" fill="#f7a89a"/>
<circle cx="567.67" cy="90.30" r="0.8" fill="#f7a89a"/>
<circle cx="571.44" cy="76.50" r="0.8" fill="#f7a89a"/>
<circle cx="575.21" cy="62.50" r="0.8" fill="#f7a89a"/>
<circle cx="578.98" cy="72.00" r="0.8" fill="#f7a89a"/>
<circle cx="582.75" cy="85.80" r="0.8" fill="#f7a89a"/>
<circle cx="586.52" cy="37.50" r="0.8" fill="#f7a89a"/>
<circle cx="590.29" cy="50.00" r="0.8" fill="#f7a89a"/>
<circle cx="594.06" cy="39.20" r="0.8" fill="#f7a89a"/>
<circle cx="597.83" cy="42.60" r="0.8" fill="#f7a89a"/>
<circle cx="601.60" cy="52.90" r="0.8" fill="#f7a89a"/>
<circle cx="605.37" cy="54.30" r="0.8" fill="#f7a89a"/>
<circle cx="609.14" cy="44.80" r="0.8" fill="#f7a89a"/>
<circle cx="612.91" cy="56.30" r="0.8" fill="#f7a89a"/>
<circle cx="616.68" cy="38.60" r="0.8" fill="#f7a89a"/>
<circle cx="620.45" cy="39.70" r="0.8" fill="#f7a89a"/>
<circle cx="624.22" cy="38.00" r="0.8" fill="#f7a89a"/>
<circle cx="627.99" cy="48.30" r="0.8" fill="#f7a89a"/>
<circle cx="631.76" cy="47.00" r="0.8" fill="#f7a89a"/>
<circle cx="635.53" cy="37.80" r="0.8" fill="#f7a89a"/>
<circle cx="639.30" cy="55.80" r="0.8" fill="#f7a89a"/>
<circle cx="643.07" cy="37.10" r="0.8" fill="#f7a89a"/>
<circle cx="646.84" cy="42.60" r="0.8" fill="#f7a89a"/>
<circle cx="650.61" cy="44.00" r="0.8" fill="#f7a89a"/>
<circle cx="654.38" cy="45.50" r="0.8" fill="#f7a89a"/>
<polyline points="563.90,72.20 567.67,72.00 571.44,72.00 575.21,72.00 578.98,73.30 582.75,73.30 586.52,73.30 590.29,48.30 594.06,73.30 597.83,73.00 601.60,71.80 605.37,69.00 609.14,63.80 612.91,52.90 616.68,73.30 620.45,35.50 624.22,73.50 627.99,67.20 631.76,72.40 635.53,73.00 639.30,70.70 643.07,72.20 646.84,70.10 650.61,71.00 654.38,71.80" fill="none" stroke="#d59af5" stroke-width="0.5"/>
<circle cx="563.90" cy="72.20" r="0.8" fill="#d59af5"/>
<circle cx="567.67" cy="72.00" r="0.8" fill="#d59af5"/>
<circle cx="571.44" cy="72.00" r="0.8" fill="#d59af5"/>
<circle cx="575.21" cy="72.00" r="0.8" fill="#d59af5"/>
<circle cx="578.98" cy="73.30" r="0.8" fill="#d59af5"/>
<circle cx="582.75" cy="73.30" r="0.8" fill="#d59af5"/>
<circle cx="586.52" cy="73.30" r="0.8" fill="#d59af5"/>
<circle cx="590.29" cy="48.30" r="0.8" fill="#d59af5"/>
<circle cx="594.06" cy="73.30" r="0.8" fill="#d59af5"/>
<circle cx="597.83" cy="73.00" r="0.8" fill="#d59af5"/>
<circle cx="601.60" cy="71.80" r="0.8" fill="#d59af5"/>
<circle cx="605.37" cy="69.00" r="0.8" fill="#d59af5"/>
<circle cx="609.14" cy="63.80" r="0.8" fill="#d59af5"/>
<circle cx="612.91" cy="52.90" r="0.8" fill="#d59af5"/>
<circle cx="616.68" cy="73.30" r="0.8" fill="#d59af5"/>
<circle cx="620.45" cy="35.50" r="0.8" fill="#d59af5"/>
<circle cx="624.22" cy="73.50" r="0.8" fill="#d59af5"/>
<circle cx="627.99" cy="67.20" r="0.8" fill="#d59af5"/>
<circle cx="631.76" cy="72.40" r="0.8" fill="#d59af5"/>
<circle cx="635.53" cy="73.00" r="0.8" fill="#d59af5"/>
<circle cx="639.30" cy="70.70" r="0.8" fill="#d59af5"/>
<circle cx="643.07" cy="72.20" r="0.8" fill="#d59af5"/>
<circle cx="646.84" cy="70.10" r="0.8" fill="#d59af5"/>
<circle cx="650.61" cy="71.00" r="0.8" fill="#d59af5"/>
<circle cx="654.38" cy="71.80" r="0.8" fill="#d59af5"/>
<polyline points="559.80,72.20 576.20,66.10 581.90,49.20 587.10,51.50 592.20,64.10 600.60,67.60 608.80,64.00 617.00,62.10 625.00,64.90 641.10,66.90" fill="none" stroke="#f23a3a" stroke-width="0.9"/>
<circle cx="559.80" cy="72.20" r="1.35" fill="#f23a3a"/>
<circle cx="576.20" cy="66.10" r="1.35" fill="#f23a3a"/>
<circle cx="581.90" cy="49.20" r="1.35" fill="#f23a3a"/>
<circle cx="587.10" cy="51.50" r="1.35" fill="#f23a3a"/>
<circle cx="592.20" cy="64.10" r="1.35" fill="#f23a3a"/>
<circle cx="600.60" cy="67.60" r="1.35" fill="#f23a3a"/>
<circle cx="608.80" cy="64.00" r="1.35" fill="#f23a3a"/>
<circle cx="617.00" cy="62.10" r="1.35" fill="#f23a3a"/>
<circle cx="625.00" cy="64.90" r="1.35" fill="#f23a3a"/>
<circle cx="641.10" cy="66.90" r="1.35" fill="#f23a3a"/>
<polyline points="563.90,72.20 567.67,71.50 571.44,71.50 575.21,71.20 578.98,72.40 582.75,36.90 586.52,72.40 590.29,60.40 594.06,72.40 597.83,72.40 601.60,70.10 605.37,69.90 609.14,64.90 612.91,63.00 616.68,71.80 620.45,56.30 624.22,72.40 627.99,68.90 631.76,71.00 635.53,72.40 639.30,66.90 643.07,72.60 646.84,67.80 650.61,71.00 654.38,71.50" fill="none" stroke="#2a4a9a" stroke-width="0.9"/>
<circle cx="563.90" cy="72.20" r="1.25" fill="#2a4a9a"/>
<circle cx="567.67" cy="71.50" r="1.25" fill="#2a4a9a"/>
<circle cx="571.44" cy="71.50" r="1.25" fill="#2a4a9a"/>
<circle cx="575.21" cy="71.20" r="1.25" fill="#2a4a9a"/>
<circle cx="578.98" cy="72.40" r="1.25" fill="#2a4a9a"/>
<circle cx="582.75" cy="36.90" r="1.25" fill="#2a4a9a"/>
<circle cx="586.52" cy="72.40" r="1.25" fill="#2a4a9a"/>
<circle cx="590.29" cy="60.40" r="1.25" fill="#2a4a9a"/>
<circle cx="594.06" cy="72.40" r="1.25" fill="#2a4a9a"/>
<circle cx="597.83" cy="72.40" r="1.25" fill="#2a4a9a"/>
<circle cx="601.60" cy="70.10" r="1.25" fill="#2a4a9a"/>
<circle cx="605.37" cy="69.90" r="1.25" fill="#2a4a9a"/>
<circle cx="609.14" cy="64.90" r="1.25" fill="#2a4a9a"/>
<circle cx="612.91" cy="63.00" r="1.25" fill="#2a4a9a"/>
<circle cx="616.68" cy="71.80" r="1.25" fill="#2a4a9a"/>
<circle cx="620.45" cy="56.30" r="1.25" fill="#2a4a9a"/>
<circle cx="624.22" cy="72.40" r="1.25" fill="#2a4a9a"/>
<circle cx="627.99" cy="68.90" r="1.25" fill="#2a4a9a"/>
<circle cx="631.76" cy="71.00" r="1.25" fill="#2a4a9a"/>
<circle cx="635.53" cy="72.40" r="1.25" fill="#2a4a9a"/>
<circle cx="639.30" cy="66.90" r="1.25" fill="#2a4a9a"/>
<circle cx="643.07" cy="72.60" r="1.25" fill="#2a4a9a"/>
<circle cx="646.84" cy="67.80" r="1.25" fill="#2a4a9a"/>
<circle cx="650.61" cy="71.00" r="1.25" fill="#2a4a9a"/>
<circle cx="654.38" cy="71.50" r="1.25" fill="#2a4a9a"/>
<rect x="575.50" y="58.00" width="1.40" height="3.60" fill="#555"/>
<polygon points="575.00,61.50 577.40,61.50 576.20,63.10" fill="#333"/>
<rect x="551.4" y="7.1" width="114.30" height="91.40" fill="none" stroke="#333" stroke-width="0.75"/>
<line x1="551.40" y1="7.10" x2="551.40" y2="98.10" stroke="#c2c2c2" stroke-width="1.5"/>
<line x1="559.80" y1="98.50" x2="559.80" y2="100.30" stroke="#333" stroke-width="0.6"/>
<line x1="559.80" y1="7.10" x2="559.80" y2="8.50" stroke="#333" stroke-width="0.5"/>
<text x="559.80" y="107.10" font-size="7.0" text-anchor="middle" fill="#222" stroke="#222" stroke-width="0.18">0</text>
<line x1="576.10" y1="98.50" x2="576.10" y2="100.30" stroke="#333" stroke-width="0.6"/>
<line x1="576.10" y1="7.10" x2="576.10" y2="8.50" stroke="#333" stroke-width="0.5"/>
<text x="576.10" y="107.10" font-size="7.0" text-anchor="middle" fill="#222" stroke="#222" stroke-width="0.18">30</text>
<line x1="592.40" y1="98.50" x2="592.40" y2="100.30" stroke="#333" stroke-width="0.6"/>
<line x1="592.40" y1="7.10" x2="592.40" y2="8.50" stroke="#333" stroke-width="0.5"/>
<text x="592.40" y="107.10" font-size="7.0" text-anchor="middle" fill="#222" stroke="#222" stroke-width="0.18">60</text>
<line x1="608.70" y1="98.50" x2="608.70" y2="100.30" stroke="#333" stroke-width="0.6"/>
<line x1="608.70" y1="7.10" x2="608.70" y2="8.50" stroke="#333" stroke-width="0.5"/>
<text x="608.70" y="107.10" font-size="7.0" text-anchor="middle" fill="#222" stroke="#222" stroke-width="0.18">90</text>
<line x1="625.00" y1="98.50" x2="625.00" y2="100.30" stroke="#333" stroke-width="0.6"/>
<line x1="625.00" y1="7.10" x2="625.00" y2="8.50" stroke="#333" stroke-width="0.5"/>
<text x="625.00" y="107.10" font-size="7.0" text-anchor="middle" fill="#222" stroke="#222" stroke-width="0.18">120</text>
<line x1="641.29" y1="98.50" x2="641.29" y2="100.30" stroke="#333" stroke-width="0.6"/>
<line x1="641.29" y1="7.10" x2="641.29" y2="8.50" stroke="#333" stroke-width="0.5"/>
<text x="641.29" y="107.10" font-size="7.0" text-anchor="middle" fill="#222" stroke="#222" stroke-width="0.18">150</text>
<line x1="657.59" y1="98.50" x2="657.59" y2="100.30" stroke="#333" stroke-width="0.6"/>
<line x1="657.59" y1="7.10" x2="657.59" y2="8.50" stroke="#333" stroke-width="0.5"/>
<text x="657.59" y="107.10" font-size="7.0" text-anchor="middle" fill="#222" stroke="#222" stroke-width="0.18">180</text>
<line x1="567.95" y1="98.50" x2="567.95" y2="99.50" stroke="#333" stroke-width="0.5"/>
<line x1="567.95" y1="7.10" x2="567.95" y2="8.10" stroke="#333" stroke-width="0.5"/>
<line x1="584.25" y1="98.50" x2="584.25" y2="99.50" stroke="#333" stroke-width="0.5"/>
<line x1="584.25" y1="7.10" x2="584.25" y2="8.10" stroke="#333" stroke-width="0.5"/>
<line x1="600.55" y1="98.50" x2="600.55" y2="99.50" stroke="#333" stroke-width="0.5"/>
<line x1="600.55" y1="7.10" x2="600.55" y2="8.10" stroke="#333" stroke-width="0.5"/>
<line x1="616.85" y1="98.50" x2="616.85" y2="99.50" stroke="#333" stroke-width="0.5"/>
<line x1="616.85" y1="7.10" x2="616.85" y2="8.10" stroke="#333" stroke-width="0.5"/>
<line x1="633.15" y1="98.50" x2="633.15" y2="99.50" stroke="#333" stroke-width="0.5"/>
<line x1="633.15" y1="7.10" x2="633.15" y2="8.10" stroke="#333" stroke-width="0.5"/>
<line x1="649.44" y1="98.50" x2="649.44" y2="99.50" stroke="#333" stroke-width="0.5"/>
<line x1="649.44" y1="7.10" x2="649.44" y2="8.10" stroke="#333" stroke-width="0.5"/>
<text x="609.00" y="114.20" font-size="7.6" text-anchor="middle" fill="#222" stroke="#222" stroke-width="0.18">Time (min)</text>
<line x1="551.40" y1="90.70" x2="549.60" y2="90.70" stroke="#333" stroke-width="0.6"/>
<line x1="665.70" y1="90.70" x2="667.20" y2="90.70" stroke="#333" stroke-width="0.6"/>
<text x="548.80" y="93.20" font-size="7.0" text-anchor="end" fill="#222" stroke="#222" stroke-width="0.18">2</text>
<line x1="551.40" y1="75.60" x2="549.60" y2="75.60" stroke="#333" stroke-width="0.6"/>
<line x1="665.70" y1="75.60" x2="667.20" y2="75.60" stroke="#333" stroke-width="0.6"/>
<text x="548.80" y="78.10" font-size="7.0" text-anchor="end" fill="#222" stroke="#222" stroke-width="0.18">4</text>
<line x1="551.40" y1="60.50" x2="549.60" y2="60.50" stroke="#333" stroke-width="0.6"/>
<line x1="665.70" y1="60.50" x2="667.20" y2="60.50" stroke="#333" stroke-width="0.6"/>
<text x="548.80" y="63.00" font-size="7.0" text-anchor="end" fill="#222" stroke="#222" stroke-width="0.18">6</text>
<line x1="551.40" y1="45.40" x2="549.60" y2="45.40" stroke="#333" stroke-width="0.6"/>
<line x1="665.70" y1="45.40" x2="667.20" y2="45.40" stroke="#333" stroke-width="0.6"/>
<text x="548.80" y="47.90" font-size="7.0" text-anchor="end" fill="#222" stroke="#222" stroke-width="0.18">8</text>
<line x1="551.40" y1="30.30" x2="549.60" y2="30.30" stroke="#333" stroke-width="0.6"/>
<line x1="665.70" y1="30.30" x2="667.20" y2="30.30" stroke="#333" stroke-width="0.6"/>
<text x="548.80" y="32.80" font-size="7.0" text-anchor="end" fill="#222" stroke="#222" stroke-width="0.18">10</text>
<line x1="551.40" y1="15.20" x2="549.60" y2="15.20" stroke="#333" stroke-width="0.6"/>
<line x1="665.70" y1="15.20" x2="667.20" y2="15.20" stroke="#333" stroke-width="0.6"/>
<text x="548.80" y="17.70" font-size="7.0" text-anchor="end" fill="#222" stroke="#222" stroke-width="0.18">12</text>
<line x1="551.40" y1="83.15" x2="550.40" y2="83.15" stroke="#333" stroke-width="0.5"/>
<line x1="665.70" y1="83.15" x2="666.70" y2="83.15" stroke="#333" stroke-width="0.5"/>
<line x1="551.40" y1="68.05" x2="550.40" y2="68.05" stroke="#333" stroke-width="0.5"/>
<line x1="665.70" y1="68.05" x2="666.70" y2="68.05" stroke="#333" stroke-width="0.5"/>
<line x1="551.40" y1="52.95" x2="550.40" y2="52.95" stroke="#333" stroke-width="0.5"/>
<line x1="665.70" y1="52.95" x2="666.70" y2="52.95" stroke="#333" stroke-width="0.5"/>
<line x1="551.40" y1="37.85" x2="550.40" y2="37.85" stroke="#333" stroke-width="0.5"/>
<line x1="665.70" y1="37.85" x2="666.70" y2="37.85" stroke="#333" stroke-width="0.5"/>
<line x1="551.40" y1="22.75" x2="550.40" y2="22.75" stroke="#333" stroke-width="0.5"/>
<line x1="665.70" y1="22.75" x2="666.70" y2="22.75" stroke="#333" stroke-width="0.5"/>
<text x="537.8" y="50.1" font-size="7.4" text-anchor="middle" fill="#222" transform="rotate(-90 537.8 50.1)" stroke="#222" stroke-width="0.18">Blood glucose (mM)</text>
<rect x="551.40" y="132.00" width="114.30" height="91.30" fill="#edf5fd"/>
<line x1="552.80" y1="135.00" x2="561.40" y2="135.00" stroke="#f23a3a" stroke-width="0.8"/>
<circle cx="557.10" cy="135.00" r="1.0" fill="#f23a3a"/>
<text x="562.7" y="136.50" font-size="3.9" fill="#f23a3a" font-weight="bold">Blood glucose</text>
<line x1="552.80" y1="139.70" x2="561.40" y2="139.70" stroke="#f7a89a" stroke-width="0.8"/>
<circle cx="557.10" cy="139.70" r="1.0" fill="#f7a89a"/>
<text x="562.7" y="141.20" font-size="3.9" fill="#f7a89a">Pred. glu. without calibration</text>
<line x1="552.80" y1="144.90" x2="561.40" y2="144.90" stroke="#d59af5" stroke-width="0.8"/>
<circle cx="557.10" cy="144.90" r="1.0" fill="#d59af5"/>
<text x="562.7" y="146.40" font-size="3.9" fill="#d59af5">Pred. glu. with Na<tspan font-size="2.8" dy="-1.4">+</tspan><tspan dy="1.4"> calibration</tspan></text>
<line x1="552.80" y1="150.20" x2="561.40" y2="150.20" stroke="#2a4a9a" stroke-width="0.8"/>
<circle cx="557.10" cy="150.20" r="1.0" fill="#2a4a9a"/>
<text x="562.7" y="151.70" font-size="3.9" fill="#2a4a9a">Pred. glu. with Na<tspan font-size="2.8" dy="-1.4">+</tspan><tspan dy="1.4"> and pH calibration</tspan></text>
<rect x="633.10" y="133.40" width="1.20" height="3.60" fill="#555"/>
<polygon points="632.60,137.00 634.80,137.00 633.70,138.70" fill="#333"/>
<text x="635.60" y="137.80" font-size="4.3" text-anchor="start" fill="#222">Glucose intake</text>
<polyline points="564.00,193.50 567.78,220.30 571.56,168.20 575.34,185.60 579.12,160.60 582.90,174.80 586.68,156.90 590.46,162.80 594.24,195.50 598.02,191.90 601.80,171.80 605.58,178.40 609.36,165.60 613.14,177.70 616.92,174.40 620.70,172.00 624.48,168.00 628.26,162.90 632.04,175.10 635.82,167.20 639.60,175.80 643.38,168.20 647.16,168.80" fill="none" stroke="#f7a89a" stroke-width="0.5"/>
<circle cx="564.00" cy="193.50" r="0.8" fill="#f7a89a"/>
<circle cx="567.78" cy="220.30" r="0.8" fill="#f7a89a"/>
<circle cx="571.56" cy="168.20" r="0.8" fill="#f7a89a"/>
<circle cx="575.34" cy="185.60" r="0.8" fill="#f7a89a"/>
<circle cx="579.12" cy="160.60" r="0.8" fill="#f7a89a"/>
<circle cx="582.90" cy="174.80" r="0.8" fill="#f7a89a"/>
<circle cx="586.68" cy="156.90" r="0.8" fill="#f7a89a"/>
<circle cx="590.46" cy="162.80" r="0.8" fill="#f7a89a"/>
<circle cx="594.24" cy="195.50" r="0.8" fill="#f7a89a"/>
<circle cx="598.02" cy="191.90" r="0.8" fill="#f7a89a"/>
<circle cx="601.80" cy="171.80" r="0.8" fill="#f7a89a"/>
<circle cx="605.58" cy="178.40" r="0.8" fill="#f7a89a"/>
<circle cx="609.36" cy="165.60" r="0.8" fill="#f7a89a"/>
<circle cx="613.14" cy="177.70" r="0.8" fill="#f7a89a"/>
<circle cx="616.92" cy="174.40" r="0.8" fill="#f7a89a"/>
<circle cx="620.70" cy="172.00" r="0.8" fill="#f7a89a"/>
<circle cx="624.48" cy="168.00" r="0.8" fill="#f7a89a"/>
<circle cx="628.26" cy="162.90" r="0.8" fill="#f7a89a"/>
<circle cx="632.04" cy="175.10" r="0.8" fill="#f7a89a"/>
<circle cx="635.82" cy="167.20" r="0.8" fill="#f7a89a"/>
<circle cx="639.60" cy="175.80" r="0.8" fill="#f7a89a"/>
<circle cx="643.38" cy="168.20" r="0.8" fill="#f7a89a"/>
<circle cx="647.16" cy="168.80" r="0.8" fill="#f7a89a"/>
<polyline points="564.00,193.50 567.78,188.30 571.56,198.20 575.34,191.20 579.12,197.80 582.90,193.30 586.68,198.80 590.46,198.80 594.24,196.80 598.02,194.90 601.80,191.30 605.58,178.80 609.36,189.60 613.14,187.60 616.92,191.20 620.70,180.10 624.48,181.00 628.26,178.80 632.04,177.10 635.82,162.50 639.60,185.00 643.38,183.00 647.16,189.90" fill="none" stroke="#d59af5" stroke-width="0.5"/>
<circle cx="564.00" cy="193.50" r="0.8" fill="#d59af5"/>
<circle cx="567.78" cy="188.30" r="0.8" fill="#d59af5"/>
<circle cx="571.56" cy="198.20" r="0.8" fill="#d59af5"/>
<circle cx="575.34" cy="191.20" r="0.8" fill="#d59af5"/>
<circle cx="579.12" cy="197.80" r="0.8" fill="#d59af5"/>
<circle cx="582.90" cy="193.30" r="0.8" fill="#d59af5"/>
<circle cx="586.68" cy="198.80" r="0.8" fill="#d59af5"/>
<circle cx="590.46" cy="198.80" r="0.8" fill="#d59af5"/>
<circle cx="594.24" cy="196.80" r="0.8" fill="#d59af5"/>
<circle cx="598.02" cy="194.90" r="0.8" fill="#d59af5"/>
<circle cx="601.80" cy="191.30" r="0.8" fill="#d59af5"/>
<circle cx="605.58" cy="178.80" r="0.8" fill="#d59af5"/>
<circle cx="609.36" cy="189.60" r="0.8" fill="#d59af5"/>
<circle cx="613.14" cy="187.60" r="0.8" fill="#d59af5"/>
<circle cx="616.92" cy="191.20" r="0.8" fill="#d59af5"/>
<circle cx="620.70" cy="180.10" r="0.8" fill="#d59af5"/>
<circle cx="624.48" cy="181.00" r="0.8" fill="#d59af5"/>
<circle cx="628.26" cy="178.80" r="0.8" fill="#d59af5"/>
<circle cx="632.04" cy="177.10" r="0.8" fill="#d59af5"/>
<circle cx="635.82" cy="162.50" r="0.8" fill="#d59af5"/>
<circle cx="639.60" cy="185.00" r="0.8" fill="#d59af5"/>
<circle cx="643.38" cy="183.00" r="0.8" fill="#d59af5"/>
<circle cx="647.16" cy="189.90" r="0.8" fill="#d59af5"/>
<path d="M560.00,188.70 C562.68,187.42 570.62,183.27 576.10,181.00 C581.58,178.73 584.78,176.70 592.90,175.10 C601.02,173.50 614.02,171.52 624.80,171.40 C635.58,171.28 652.13,173.90 657.60,174.40" fill="none" stroke="#f23a3a" stroke-width="0.9"/>
<circle cx="560.00" cy="188.70" r="1.35" fill="#f23a3a"/>
<circle cx="576.10" cy="181.00" r="1.35" fill="#f23a3a"/>
<circle cx="592.90" cy="175.10" r="1.35" fill="#f23a3a"/>
<circle cx="624.80" cy="171.40" r="1.35" fill="#f23a3a"/>
<circle cx="657.60" cy="174.40" r="1.35" fill="#f23a3a"/>
<polyline points="564.00,188.70 567.78,185.90 571.56,190.90 575.34,187.60 579.12,190.90 582.90,188.70 586.68,191.30 590.46,191.30 594.24,190.20 598.02,188.70 601.80,187.60 605.58,181.40 609.36,187.00 613.14,185.70 616.92,187.40 620.70,181.70 624.48,182.80 628.26,181.00 632.04,179.70 635.82,171.10 639.60,183.70 643.38,182.00 647.16,185.70" fill="none" stroke="#2a4a9a" stroke-width="0.9"/>
<circle cx="564.00" cy="188.70" r="1.25" fill="#2a4a9a"/>
<circle cx="567.78" cy="185.90" r="1.25" fill="#2a4a9a"/>
<circle cx="571.56" cy="190.90" r="1.25" fill="#2a4a9a"/>
<circle cx="575.34" cy="187.60" r="1.25" fill="#2a4a9a"/>
<circle cx="579.12" cy="190.90" r="1.25" fill="#2a4a9a"/>
<circle cx="582.90" cy="188.70" r="1.25" fill="#2a4a9a"/>
<circle cx="586.68" cy="191.30" r="1.25" fill="#2a4a9a"/>
<circle cx="590.46" cy="191.30" r="1.25" fill="#2a4a9a"/>
<circle cx="594.24" cy="190.20" r="1.25" fill="#2a4a9a"/>
<circle cx="598.02" cy="188.70" r="1.25" fill="#2a4a9a"/>
<circle cx="601.80" cy="187.60" r="1.25" fill="#2a4a9a"/>
<circle cx="605.58" cy="181.40" r="1.25" fill="#2a4a9a"/>
<circle cx="609.36" cy="187.00" r="1.25" fill="#2a4a9a"/>
<circle cx="613.14" cy="185.70" r="1.25" fill="#2a4a9a"/>
<circle cx="616.92" cy="187.40" r="1.25" fill="#2a4a9a"/>
<circle cx="620.70" cy="181.70" r="1.25" fill="#2a4a9a"/>
<circle cx="624.48" cy="182.80" r="1.25" fill="#2a4a9a"/>
<circle cx="628.26" cy="181.00" r="1.25" fill="#2a4a9a"/>
<circle cx="632.04" cy="179.70" r="1.25" fill="#2a4a9a"/>
<circle cx="635.82" cy="171.10" r="1.25" fill="#2a4a9a"/>
<circle cx="639.60" cy="183.70" r="1.25" fill="#2a4a9a"/>
<circle cx="643.38" cy="182.00" r="1.25" fill="#2a4a9a"/>
<circle cx="647.16" cy="185.70" r="1.25" fill="#2a4a9a"/>
<rect x="559.30" y="182.00" width="1.40" height="3.60" fill="#555"/>
<polygon points="558.80,185.50 561.20,185.50 560.00,187.10" fill="#333"/>
<rect x="551.4" y="132.0" width="114.30" height="91.30" fill="none" stroke="#333" stroke-width="0.75"/>
<line x1="551.40" y1="132.00" x2="551.40" y2="222.90" stroke="#c2c2c2" stroke-width="1.5"/>
<line x1="559.80" y1="223.30" x2="559.80" y2="225.10" stroke="#333" stroke-width="0.6"/>
<line x1="559.80" y1="132.00" x2="559.80" y2="133.40" stroke="#333" stroke-width="0.5"/>
<text x="559.80" y="231.60" font-size="7.0" text-anchor="middle" fill="#222" stroke="#222" stroke-width="0.18">0</text>
<line x1="576.10" y1="223.30" x2="576.10" y2="225.10" stroke="#333" stroke-width="0.6"/>
<line x1="576.10" y1="132.00" x2="576.10" y2="133.40" stroke="#333" stroke-width="0.5"/>
<text x="576.10" y="231.60" font-size="7.0" text-anchor="middle" fill="#222" stroke="#222" stroke-width="0.18">30</text>
<line x1="592.40" y1="223.30" x2="592.40" y2="225.10" stroke="#333" stroke-width="0.6"/>
<line x1="592.40" y1="132.00" x2="592.40" y2="133.40" stroke="#333" stroke-width="0.5"/>
<text x="592.40" y="231.60" font-size="7.0" text-anchor="middle" fill="#222" stroke="#222" stroke-width="0.18">60</text>
<line x1="608.70" y1="223.30" x2="608.70" y2="225.10" stroke="#333" stroke-width="0.6"/>
<line x1="608.70" y1="132.00" x2="608.70" y2="133.40" stroke="#333" stroke-width="0.5"/>
<text x="608.70" y="231.60" font-size="7.0" text-anchor="middle" fill="#222" stroke="#222" stroke-width="0.18">90</text>
<line x1="625.00" y1="223.30" x2="625.00" y2="225.10" stroke="#333" stroke-width="0.6"/>
<line x1="625.00" y1="132.00" x2="625.00" y2="133.40" stroke="#333" stroke-width="0.5"/>
<text x="625.00" y="231.60" font-size="7.0" text-anchor="middle" fill="#222" stroke="#222" stroke-width="0.18">120</text>
<line x1="641.29" y1="223.30" x2="641.29" y2="225.10" stroke="#333" stroke-width="0.6"/>
<line x1="641.29" y1="132.00" x2="641.29" y2="133.40" stroke="#333" stroke-width="0.5"/>
<text x="641.29" y="231.60" font-size="7.0" text-anchor="middle" fill="#222" stroke="#222" stroke-width="0.18">150</text>
<line x1="657.59" y1="223.30" x2="657.59" y2="225.10" stroke="#333" stroke-width="0.6"/>
<line x1="657.59" y1="132.00" x2="657.59" y2="133.40" stroke="#333" stroke-width="0.5"/>
<text x="657.59" y="231.60" font-size="7.0" text-anchor="middle" fill="#222" stroke="#222" stroke-width="0.18">180</text>
<line x1="567.95" y1="223.30" x2="567.95" y2="224.30" stroke="#333" stroke-width="0.5"/>
<line x1="567.95" y1="132.00" x2="567.95" y2="133.00" stroke="#333" stroke-width="0.5"/>
<line x1="584.25" y1="223.30" x2="584.25" y2="224.30" stroke="#333" stroke-width="0.5"/>
<line x1="584.25" y1="132.00" x2="584.25" y2="133.00" stroke="#333" stroke-width="0.5"/>
<line x1="600.55" y1="223.30" x2="600.55" y2="224.30" stroke="#333" stroke-width="0.5"/>
<line x1="600.55" y1="132.00" x2="600.55" y2="133.00" stroke="#333" stroke-width="0.5"/>
<line x1="616.85" y1="223.30" x2="616.85" y2="224.30" stroke="#333" stroke-width="0.5"/>
<line x1="616.85" y1="132.00" x2="616.85" y2="133.00" stroke="#333" stroke-width="0.5"/>
<line x1="633.15" y1="223.30" x2="633.15" y2="224.30" stroke="#333" stroke-width="0.5"/>
<line x1="633.15" y1="132.00" x2="633.15" y2="133.00" stroke="#333" stroke-width="0.5"/>
<line x1="649.44" y1="223.30" x2="649.44" y2="224.30" stroke="#333" stroke-width="0.5"/>
<line x1="649.44" y1="132.00" x2="649.44" y2="133.00" stroke="#333" stroke-width="0.5"/>
<text x="609.00" y="239.60" font-size="7.6" text-anchor="middle" fill="#222" stroke="#222" stroke-width="0.18">Time (min)</text>
<line x1="551.40" y1="214.94" x2="549.60" y2="214.94" stroke="#333" stroke-width="0.6"/>
<line x1="665.70" y1="214.94" x2="667.20" y2="214.94" stroke="#333" stroke-width="0.6"/>
<text x="548.80" y="217.44" font-size="7.0" text-anchor="end" fill="#222" stroke="#222" stroke-width="0.18">&#8722;10</text>
<line x1="551.40" y1="198.30" x2="549.60" y2="198.30" stroke="#333" stroke-width="0.6"/>
<line x1="665.70" y1="198.30" x2="667.20" y2="198.30" stroke="#333" stroke-width="0.6"/>
<text x="548.80" y="200.80" font-size="7.0" text-anchor="end" fill="#222" stroke="#222" stroke-width="0.18">0</text>
<line x1="551.40" y1="181.66" x2="549.60" y2="181.66" stroke="#333" stroke-width="0.6"/>
<line x1="665.70" y1="181.66" x2="667.20" y2="181.66" stroke="#333" stroke-width="0.6"/>
<text x="548.80" y="184.16" font-size="7.0" text-anchor="end" fill="#222" stroke="#222" stroke-width="0.18">10</text>
<line x1="551.40" y1="165.02" x2="549.60" y2="165.02" stroke="#333" stroke-width="0.6"/>
<line x1="665.70" y1="165.02" x2="667.20" y2="165.02" stroke="#333" stroke-width="0.6"/>
<text x="548.80" y="167.52" font-size="7.0" text-anchor="end" fill="#222" stroke="#222" stroke-width="0.18">20</text>
<line x1="551.40" y1="148.38" x2="549.60" y2="148.38" stroke="#333" stroke-width="0.6"/>
<line x1="665.70" y1="148.38" x2="667.20" y2="148.38" stroke="#333" stroke-width="0.6"/>
<text x="548.80" y="150.88" font-size="7.0" text-anchor="end" fill="#222" stroke="#222" stroke-width="0.18">30</text>
<line x1="551.40" y1="131.74" x2="549.60" y2="131.74" stroke="#333" stroke-width="0.6"/>
<line x1="665.70" y1="131.74" x2="667.20" y2="131.74" stroke="#333" stroke-width="0.6"/>
<text x="548.80" y="134.24" font-size="7.0" text-anchor="end" fill="#222" stroke="#222" stroke-width="0.18">40</text>
<line x1="551.40" y1="206.62" x2="550.40" y2="206.62" stroke="#333" stroke-width="0.5"/>
<line x1="665.70" y1="206.62" x2="666.70" y2="206.62" stroke="#333" stroke-width="0.5"/>
<line x1="551.40" y1="189.98" x2="550.40" y2="189.98" stroke="#333" stroke-width="0.5"/>
<line x1="665.70" y1="189.98" x2="666.70" y2="189.98" stroke="#333" stroke-width="0.5"/>
<line x1="551.40" y1="173.34" x2="550.40" y2="173.34" stroke="#333" stroke-width="0.5"/>
<line x1="665.70" y1="173.34" x2="666.70" y2="173.34" stroke="#333" stroke-width="0.5"/>
<line x1="551.40" y1="156.70" x2="550.40" y2="156.70" stroke="#333" stroke-width="0.5"/>
<line x1="665.70" y1="156.70" x2="666.70" y2="156.70" stroke="#333" stroke-width="0.5"/>
<line x1="551.40" y1="140.06" x2="550.40" y2="140.06" stroke="#333" stroke-width="0.5"/>
<line x1="665.70" y1="140.06" x2="666.70" y2="140.06" stroke="#333" stroke-width="0.5"/>
<text x="534.6" y="177.8" font-size="7.7" text-anchor="middle" fill="#222" transform="rotate(-90 534.6 177.8)" stroke="#222" stroke-width="0.18">Blood glucose (mM)</text>
<line x1="44.25" y1="383.60" x2="44.25" y2="258.05" stroke="#c9c9c9" stroke-width="1.3"/>
<line x1="28.50" y1="383.60" x2="154.05" y2="258.05" stroke="#222" stroke-width="0.75"/>
<line x1="28.50" y1="343.10" x2="44.25" y2="343.10" stroke="#3a3a3a" stroke-width="0.6"/>
<line x1="44.25" y1="343.10" x2="129.30" y2="258.05" stroke="#3a3a3a" stroke-width="0.6"/>
<line x1="28.50" y1="367.85" x2="41.63" y2="367.85" stroke="#888" stroke-width="0.6"/>
<line x1="41.63" y1="367.85" x2="133.12" y2="258.05" stroke="#3a3a3a" stroke-width="0.6"/>
<line x1="44.25" y1="371.00" x2="154.05" y2="283.16" stroke="#3a3a3a" stroke-width="0.6"/>
<line x1="69.00" y1="383.60" x2="69.00" y2="367.85" stroke="#3a3a3a" stroke-width="0.6"/>
<line x1="69.00" y1="367.85" x2="154.05" y2="367.85" stroke="#3a3a3a" stroke-width="0.6"/>
<line x1="82.49" y1="367.85" x2="82.49" y2="343.10" stroke="#3a3a3a" stroke-width="0.6"/>
<line x1="82.49" y1="343.10" x2="154.05" y2="343.10" stroke="#3a3a3a" stroke-width="0.6"/>
<line x1="57.75" y1="383.60" x2="69.00" y2="367.85" stroke="#3a3a3a" stroke-width="0.6"/>
<line x1="28.50" y1="367.85" x2="69.00" y2="367.85" stroke="#c9c9c9" stroke-width="1.2"/>
<circle cx="49.56" cy="360.92" r="0.9" fill="#f3836e"/>
<circle cx="52.39" cy="357.28" r="0.9" fill="#f3836e"/>
<circle cx="55.23" cy="355.66" r="0.9" fill="#f3836e"/>
<circle cx="53.61" cy="360.52" r="0.9" fill="#f3836e"/>
<circle cx="51.18" cy="362.14" r="0.9" fill="#f3836e"/>
<circle cx="56.45" cy="358.90" r="0.9" fill="#f3836e"/>
<circle cx="52.80" cy="332.57" r="0.9" fill="#f3836e"/>
<circle cx="54.02" cy="332.17" r="0.9" fill="#f3836e"/>
<circle cx="55.63" cy="333.79" r="0.9" fill="#f3836e"/>
<circle cx="58.47" cy="334.19" r="0.9" fill="#f3836e"/>
<circle cx="62.52" cy="332.17" r="0.9" fill="#f3836e"/>
<circle cx="50.37" cy="337.03" r="0.9" fill="#f3836e"/>
<circle cx="49.97" cy="347.56" r="0.9" fill="#f3836e"/>
<circle cx="51.18" cy="347.96" r="0.9" fill="#f3836e"/>
<circle cx="50.77" cy="349.18" r="0.9" fill="#f3836e"/>
<circle cx="50.37" cy="350.80" r="0.9" fill="#f3836e"/>
<circle cx="57.25" cy="347.15" r="0.9" fill="#f3836e"/>
<circle cx="55.63" cy="352.42" r="0.9" fill="#f3836e"/>
<circle cx="54.02" cy="354.04" r="0.9" fill="#f3836e"/>
<circle cx="48.75" cy="355.66" r="0.9" fill="#f3836e"/>
<circle cx="49.97" cy="356.47" r="0.9" fill="#f3836e"/>
<circle cx="51.59" cy="356.87" r="0.9" fill="#f3836e"/>
<circle cx="53.20" cy="358.09" r="0.9" fill="#f3836e"/>
<circle cx="54.02" cy="356.06" r="0.9" fill="#f3836e"/>
<circle cx="56.45" cy="356.47" r="0.9" fill="#f3836e"/>
<circle cx="57.66" cy="358.09" r="0.9" fill="#f3836e"/>
<circle cx="51.18" cy="358.90" r="0.9" fill="#f3836e"/>
<circle cx="52.39" cy="359.30" r="0.9" fill="#f3836e"/>
<circle cx="54.42" cy="359.71" r="0.9" fill="#f3836e"/>
<circle cx="56.04" cy="360.11" r="0.9" fill="#f3836e"/>
<circle cx="58.47" cy="359.71" r="0.9" fill="#f3836e"/>
<circle cx="61.71" cy="360.52" r="0.9" fill="#f3836e"/>
<circle cx="51.59" cy="360.92" r="0.9" fill="#f3836e"/>
<circle cx="53.20" cy="361.33" r="0.9" fill="#f3836e"/>
<circle cx="55.63" cy="362.95" r="0.9" fill="#f3836e"/>
<circle cx="48.75" cy="363.35" r="0.9" fill="#f3836e"/>
<circle cx="50.77" cy="363.75" r="0.9" fill="#f3836e"/>
<circle cx="52.39" cy="364.16" r="0.9" fill="#f3836e"/>
<circle cx="47.13" cy="364.97" r="0.9" fill="#f3836e"/>
<circle cx="47.94" cy="364.56" r="0.9" fill="#f3836e"/>
<circle cx="46.32" cy="365.78" r="0.9" fill="#f3836e"/>
<circle cx="59.28" cy="365.38" r="0.9" fill="#f3836e"/>
<circle cx="58.06" cy="362.14" r="0.9" fill="#f3836e"/>
<circle cx="55.63" cy="361.73" r="0.9" fill="#f3836e"/>
<circle cx="58.06" cy="373.07" r="0.9" fill="#f3836e"/>
<circle cx="51.99" cy="355.25" r="0.9" fill="#f3836e"/>
<circle cx="54.83" cy="358.49" r="0.9" fill="#f3836e"/>
<circle cx="52.80" cy="362.54" r="0.9" fill="#f3836e"/>
<rect x="28.50" y="258.05" width="125.55" height="125.55" fill="none" stroke="#444" stroke-width="0.6"/>
<line x1="28.50" y1="383.60" x2="28.50" y2="382.30" stroke="#444" stroke-width="0.5"/>
<line x1="28.50" y1="258.05" x2="28.50" y2="259.35" stroke="#444" stroke-width="0.5"/>
<line x1="28.50" y1="383.60" x2="29.80" y2="383.60" stroke="#444" stroke-width="0.5"/>
<line x1="154.05" y1="383.60" x2="152.75" y2="383.60" stroke="#444" stroke-width="0.5"/>
<text x="28.50" y="389.90" font-size="5.0" text-anchor="middle" fill="#333" stroke="#333" stroke-width="0.18">0</text>
<text x="26.50" y="385.90" font-size="5.0" text-anchor="end" fill="#333" stroke="#333" stroke-width="0.18">0</text>
<line x1="48.75" y1="383.60" x2="48.75" y2="382.30" stroke="#444" stroke-width="0.5"/>
<line x1="48.75" y1="258.05" x2="48.75" y2="259.35" stroke="#444" stroke-width="0.5"/>
<line x1="28.50" y1="363.35" x2="29.80" y2="363.35" stroke="#444" stroke-width="0.5"/>
<line x1="154.05" y1="363.35" x2="152.75" y2="363.35" stroke="#444" stroke-width="0.5"/>
<text x="48.75" y="389.90" font-size="5.0" text-anchor="middle" fill="#333" stroke="#333" stroke-width="0.18">5</text>
<text x="26.50" y="365.65" font-size="5.0" text-anchor="end" fill="#333" stroke="#333" stroke-width="0.18">5</text>
<line x1="69.00" y1="383.60" x2="69.00" y2="382.30" stroke="#444" stroke-width="0.5"/>
<line x1="69.00" y1="258.05" x2="69.00" y2="259.35" stroke="#444" stroke-width="0.5"/>
<line x1="28.50" y1="343.10" x2="29.80" y2="343.10" stroke="#444" stroke-width="0.5"/>
<line x1="154.05" y1="343.10" x2="152.75" y2="343.10" stroke="#444" stroke-width="0.5"/>
<text x="69.00" y="389.90" font-size="5.0" text-anchor="middle" fill="#333" stroke="#333" stroke-width="0.18">10</text>
<text x="26.50" y="345.40" font-size="5.0" text-anchor="end" fill="#333" stroke="#333" stroke-width="0.18">10</text>
<line x1="89.25" y1="383.60" x2="89.25" y2="382.30" stroke="#444" stroke-width="0.5"/>
<line x1="89.25" y1="258.05" x2="89.25" y2="259.35" stroke="#444" stroke-width="0.5"/>
<line x1="28.50" y1="322.85" x2="29.80" y2="322.85" stroke="#444" stroke-width="0.5"/>
<line x1="154.05" y1="322.85" x2="152.75" y2="322.85" stroke="#444" stroke-width="0.5"/>
<text x="89.25" y="389.90" font-size="5.0" text-anchor="middle" fill="#333" stroke="#333" stroke-width="0.18">15</text>
<text x="26.50" y="325.15" font-size="5.0" text-anchor="end" fill="#333" stroke="#333" stroke-width="0.18">15</text>
<line x1="109.50" y1="383.60" x2="109.50" y2="382.30" stroke="#444" stroke-width="0.5"/>
<line x1="109.50" y1="258.05" x2="109.50" y2="259.35" stroke="#444" stroke-width="0.5"/>
<line x1="28.50" y1="302.60" x2="29.80" y2="302.60" stroke="#444" stroke-width="0.5"/>
<line x1="154.05" y1="302.60" x2="152.75" y2="302.60" stroke="#444" stroke-width="0.5"/>
<text x="109.50" y="389.90" font-size="5.0" text-anchor="middle" fill="#333" stroke="#333" stroke-width="0.18">20</text>
<text x="26.50" y="304.90" font-size="5.0" text-anchor="end" fill="#333" stroke="#333" stroke-width="0.18">20</text>
<line x1="129.75" y1="383.60" x2="129.75" y2="382.30" stroke="#444" stroke-width="0.5"/>
<line x1="129.75" y1="258.05" x2="129.75" y2="259.35" stroke="#444" stroke-width="0.5"/>
<line x1="28.50" y1="282.35" x2="29.80" y2="282.35" stroke="#444" stroke-width="0.5"/>
<line x1="154.05" y1="282.35" x2="152.75" y2="282.35" stroke="#444" stroke-width="0.5"/>
<text x="129.75" y="389.90" font-size="5.0" text-anchor="middle" fill="#333" stroke="#333" stroke-width="0.18">25</text>
<text x="26.50" y="284.65" font-size="5.0" text-anchor="end" fill="#333" stroke="#333" stroke-width="0.18">25</text>
<line x1="150.00" y1="383.60" x2="150.00" y2="382.30" stroke="#444" stroke-width="0.5"/>
<line x1="150.00" y1="258.05" x2="150.00" y2="259.35" stroke="#444" stroke-width="0.5"/>
<line x1="28.50" y1="262.10" x2="29.80" y2="262.10" stroke="#444" stroke-width="0.5"/>
<line x1="154.05" y1="262.10" x2="152.75" y2="262.10" stroke="#444" stroke-width="0.5"/>
<text x="150.00" y="389.90" font-size="5.0" text-anchor="middle" fill="#333" stroke="#333" stroke-width="0.18">30</text>
<text x="26.50" y="264.40" font-size="5.0" text-anchor="end" fill="#333" stroke="#333" stroke-width="0.18">30</text>
<text x="36.32" y="300.15" font-size="5.6" text-anchor="middle" fill="#222" stroke="#222" stroke-width="0.18">E</text>
<text x="63.33" y="300.15" font-size="5.6" text-anchor="middle" fill="#222" stroke="#222" stroke-width="0.18">C</text>
<text x="92.49" y="300.15" font-size="5.6" text-anchor="middle" fill="#222" stroke="#222" stroke-width="0.18">B</text>
<text x="115.58" y="327.28" font-size="5.6" text-anchor="middle" fill="#222" stroke="#222" stroke-width="0.18">B</text>
<text x="36.32" y="351.99" font-size="5.6" text-anchor="middle" fill="#222" stroke="#222" stroke-width="0.18">D</text>
<text x="115.58" y="359.28" font-size="5.6" text-anchor="middle" fill="#222" stroke="#222" stroke-width="0.18">D</text>
<text x="36.32" y="381.15" font-size="5.6" text-anchor="middle" fill="#222" stroke="#222" stroke-width="0.18">A</text>
<text x="65.76" y="381.15" font-size="5.6" text-anchor="middle" fill="#222" stroke="#222" stroke-width="0.18">C</text>
<text x="115.58" y="381.15" font-size="5.6" text-anchor="middle" fill="#222" stroke="#222" stroke-width="0.18">E</text>
<text x="91.28" y="256.25" font-size="5.7" text-anchor="middle" fill="#222" stroke="#222" stroke-width="0.18">Without calibration</text>
<text x="91.28" y="396.60" font-size="5.6" text-anchor="middle" fill="#333" stroke="#333" stroke-width="0.18">Reference glucose (mM)</text>
<text x="20.20" y="320.83" font-size="5.3" text-anchor="middle" fill="#333" transform="rotate(-90 20.20 320.83)" stroke="#333" stroke-width="0.18">Predicted glucose (mM)</text>
<text x="0.00" y="260.35" font-size="14" text-anchor="start" fill="#000" font-weight="bold">d</text>
<line x1="215.95" y1="383.60" x2="215.95" y2="258.05" stroke="#c9c9c9" stroke-width="1.3"/>
<line x1="200.20" y1="383.60" x2="325.75" y2="258.05" stroke="#222" stroke-width="0.75"/>
<line x1="200.20" y1="343.10" x2="215.95" y2="343.10" stroke="#3a3a3a" stroke-width="0.6"/>
<line x1="215.95" y1="343.10" x2="301.00" y2="258.05" stroke="#3a3a3a" stroke-width="0.6"/>
<line x1="200.20" y1="367.85" x2="213.33" y2="367.85" stroke="#888" stroke-width="0.6"/>
<line x1="213.33" y1="367.85" x2="304.82" y2="258.05" stroke="#3a3a3a" stroke-width="0.6"/>
<line x1="215.95" y1="371.00" x2="325.75" y2="283.16" stroke="#3a3a3a" stroke-width="0.6"/>
<line x1="240.70" y1="383.60" x2="240.70" y2="367.85" stroke="#3a3a3a" stroke-width="0.6"/>
<line x1="240.70" y1="367.85" x2="325.75" y2="367.85" stroke="#3a3a3a" stroke-width="0.6"/>
<line x1="254.19" y1="367.85" x2="254.19" y2="343.10" stroke="#3a3a3a" stroke-width="0.6"/>
<line x1="254.19" y1="343.10" x2="325.75" y2="343.10" stroke="#3a3a3a" stroke-width="0.6"/>
<line x1="229.45" y1="383.60" x2="240.70" y2="367.85" stroke="#3a3a3a" stroke-width="0.6"/>
<line x1="200.20" y1="367.85" x2="240.70" y2="367.85" stroke="#c9c9c9" stroke-width="1.2"/>
<circle cx="220.45" cy="363.75" r="0.9" fill="#cd84f4"/>
<circle cx="222.07" cy="362.95" r="0.9" fill="#cd84f4"/>
<circle cx="223.69" cy="361.73" r="0.9" fill="#cd84f4"/>
<circle cx="225.31" cy="360.92" r="0.9" fill="#cd84f4"/>
<circle cx="226.93" cy="360.11" r="0.9" fill="#cd84f4"/>
<circle cx="221.66" cy="364.97" r="0.9" fill="#cd84f4"/>
<circle cx="224.09" cy="364.16" r="0.9" fill="#cd84f4"/>
<circle cx="226.52" cy="363.75" r="0.9" fill="#cd84f4"/>
<circle cx="228.55" cy="364.16" r="0.9" fill="#cd84f4"/>
<circle cx="228.14" cy="328.52" r="0.9" fill="#cd84f4"/>
<circle cx="230.57" cy="326.50" r="0.9" fill="#cd84f4"/>
<circle cx="222.88" cy="341.48" r="0.9" fill="#cd84f4"/>
<circle cx="225.31" cy="345.53" r="0.9" fill="#cd84f4"/>
<circle cx="227.74" cy="345.94" r="0.9" fill="#cd84f4"/>
<circle cx="228.14" cy="349.58" r="0.9" fill="#cd84f4"/>
<circle cx="230.17" cy="348.77" r="0.9" fill="#cd84f4"/>
<circle cx="223.28" cy="351.20" r="0.9" fill="#cd84f4"/>
<circle cx="222.47" cy="354.04" r="0.9" fill="#cd84f4"/>
<circle cx="225.31" cy="356.87" r="0.9" fill="#cd84f4"/>
<circle cx="227.33" cy="356.87" r="0.9" fill="#cd84f4"/>
<circle cx="227.74" cy="358.49" r="0.9" fill="#cd84f4"/>
<circle cx="223.69" cy="359.30" r="0.9" fill="#cd84f4"/>
<circle cx="220.04" cy="359.30" r="0.9" fill="#cd84f4"/>
<circle cx="222.47" cy="360.92" r="0.9" fill="#cd84f4"/>
<circle cx="221.66" cy="362.14" r="0.9" fill="#cd84f4"/>
<circle cx="225.31" cy="359.71" r="0.9" fill="#cd84f4"/>
<circle cx="230.98" cy="358.49" r="0.9" fill="#cd84f4"/>
<circle cx="233.41" cy="357.68" r="0.9" fill="#cd84f4"/>
<circle cx="220.85" cy="364.56" r="0.9" fill="#cd84f4"/>
<circle cx="222.88" cy="365.38" r="0.9" fill="#cd84f4"/>
<circle cx="225.31" cy="364.56" r="0.9" fill="#cd84f4"/>
<circle cx="227.74" cy="364.56" r="0.9" fill="#cd84f4"/>
<circle cx="229.76" cy="364.97" r="0.9" fill="#cd84f4"/>
<circle cx="231.38" cy="364.97" r="0.9" fill="#cd84f4"/>
<circle cx="234.62" cy="364.97" r="0.9" fill="#cd84f4"/>
<circle cx="221.26" cy="365.78" r="0.9" fill="#cd84f4"/>
<circle cx="224.50" cy="363.35" r="0.9" fill="#cd84f4"/>
<circle cx="218.42" cy="362.14" r="0.9" fill="#cd84f4"/>
<circle cx="224.09" cy="362.14" r="0.9" fill="#cd84f4"/>
<circle cx="226.12" cy="360.92" r="0.9" fill="#cd84f4"/>
<circle cx="222.07" cy="364.16" r="0.9" fill="#cd84f4"/>
<circle cx="223.28" cy="364.97" r="0.9" fill="#cd84f4"/>
<rect x="200.20" y="258.05" width="125.55" height="125.55" fill="none" stroke="#444" stroke-width="0.6"/>
<line x1="200.20" y1="383.60" x2="200.20" y2="382.30" stroke="#444" stroke-width="0.5"/>
<line x1="200.20" y1="258.05" x2="200.20" y2="259.35" stroke="#444" stroke-width="0.5"/>
<line x1="200.20" y1="383.60" x2="201.50" y2="383.60" stroke="#444" stroke-width="0.5"/>
<line x1="325.75" y1="383.60" x2="324.45" y2="383.60" stroke="#444" stroke-width="0.5"/>
<text x="200.20" y="389.90" font-size="5.0" text-anchor="middle" fill="#333" stroke="#333" stroke-width="0.18">0</text>
<text x="198.20" y="385.90" font-size="5.0" text-anchor="end" fill="#333" stroke="#333" stroke-width="0.18">0</text>
<line x1="220.45" y1="383.60" x2="220.45" y2="382.30" stroke="#444" stroke-width="0.5"/>
<line x1="220.45" y1="258.05" x2="220.45" y2="259.35" stroke="#444" stroke-width="0.5"/>
<line x1="200.20" y1="363.35" x2="201.50" y2="363.35" stroke="#444" stroke-width="0.5"/>
<line x1="325.75" y1="363.35" x2="324.45" y2="363.35" stroke="#444" stroke-width="0.5"/>
<text x="220.45" y="389.90" font-size="5.0" text-anchor="middle" fill="#333" stroke="#333" stroke-width="0.18">5</text>
<text x="198.20" y="365.65" font-size="5.0" text-anchor="end" fill="#333" stroke="#333" stroke-width="0.18">5</text>
<line x1="240.70" y1="383.60" x2="240.70" y2="382.30" stroke="#444" stroke-width="0.5"/>
<line x1="240.70" y1="258.05" x2="240.70" y2="259.35" stroke="#444" stroke-width="0.5"/>
<line x1="200.20" y1="343.10" x2="201.50" y2="343.10" stroke="#444" stroke-width="0.5"/>
<line x1="325.75" y1="343.10" x2="324.45" y2="343.10" stroke="#444" stroke-width="0.5"/>
<text x="240.70" y="389.90" font-size="5.0" text-anchor="middle" fill="#333" stroke="#333" stroke-width="0.18">10</text>
<text x="198.20" y="345.40" font-size="5.0" text-anchor="end" fill="#333" stroke="#333" stroke-width="0.18">10</text>
<line x1="260.95" y1="383.60" x2="260.95" y2="382.30" stroke="#444" stroke-width="0.5"/>
<line x1="260.95" y1="258.05" x2="260.95" y2="259.35" stroke="#444" stroke-width="0.5"/>
<line x1="200.20" y1="322.85" x2="201.50" y2="322.85" stroke="#444" stroke-width="0.5"/>
<line x1="325.75" y1="322.85" x2="324.45" y2="322.85" stroke="#444" stroke-width="0.5"/>
<text x="260.95" y="389.90" font-size="5.0" text-anchor="middle" fill="#333" stroke="#333" stroke-width="0.18">15</text>
<text x="198.20" y="325.15" font-size="5.0" text-anchor="end" fill="#333" stroke="#333" stroke-width="0.18">15</text>
<line x1="281.20" y1="383.60" x2="281.20" y2="382.30" stroke="#444" stroke-width="0.5"/>
<line x1="281.20" y1="258.05" x2="281.20" y2="259.35" stroke="#444" stroke-width="0.5"/>
<line x1="200.20" y1="302.60" x2="201.50" y2="302.60" stroke="#444" stroke-width="0.5"/>
<line x1="325.75" y1="302.60" x2="324.45" y2="302.60" stroke="#444" stroke-width="0.5"/>
<text x="281.20" y="389.90" font-size="5.0" text-anchor="middle" fill="#333" stroke="#333" stroke-width="0.18">20</text>
<text x="198.20" y="304.90" font-size="5.0" text-anchor="end" fill="#333" stroke="#333" stroke-width="0.18">20</text>
<line x1="301.45" y1="383.60" x2="301.45" y2="382.30" stroke="#444" stroke-width="0.5"/>
<line x1="301.45" y1="258.05" x2="301.45" y2="259.35" stroke="#444" stroke-width="0.5"/>
<line x1="200.20" y1="282.35" x2="201.50" y2="282.35" stroke="#444" stroke-width="0.5"/>
<line x1="325.75" y1="282.35" x2="324.45" y2="282.35" stroke="#444" stroke-width="0.5"/>
<text x="301.45" y="389.90" font-size="5.0" text-anchor="middle" fill="#333" stroke="#333" stroke-width="0.18">25</text>
<text x="198.20" y="284.65" font-size="5.0" text-anchor="end" fill="#333" stroke="#333" stroke-width="0.18">25</text>
<line x1="321.70" y1="383.60" x2="321.70" y2="382.30" stroke="#444" stroke-width="0.5"/>
<line x1="321.70" y1="258.05" x2="321.70" y2="259.35" stroke="#444" stroke-width="0.5"/>
<line x1="200.20" y1="262.10" x2="201.50" y2="262.10" stroke="#444" stroke-width="0.5"/>
<line x1="325.75" y1="262.10" x2="324.45" y2="262.10" stroke="#444" stroke-width="0.5"/>
<text x="321.70" y="389.90" font-size="5.0" text-anchor="middle" fill="#333" stroke="#333" stroke-width="0.18">30</text>
<text x="198.20" y="264.40" font-size="5.0" text-anchor="end" fill="#333" stroke="#333" stroke-width="0.18">30</text>
<text x="208.02" y="300.15" font-size="5.6" text-anchor="middle" fill="#222" stroke="#222" stroke-width="0.18">E</text>
<text x="235.03" y="300.15" font-size="5.6" text-anchor="middle" fill="#222" stroke="#222" stroke-width="0.18">C</text>
<text x="264.19" y="300.15" font-size="5.6" text-anchor="middle" fill="#222" stroke="#222" stroke-width="0.18">B</text>
<text x="287.27" y="327.28" font-size="5.6" text-anchor="middle" fill="#222" stroke="#222" stroke-width="0.18">B</text>
<text x="208.02" y="351.99" font-size="5.6" text-anchor="middle" fill="#222" stroke="#222" stroke-width="0.18">D</text>
<text x="287.27" y="359.28" font-size="5.6" text-anchor="middle" fill="#222" stroke="#222" stroke-width="0.18">D</text>
<text x="208.02" y="381.15" font-size="5.6" text-anchor="middle" fill="#222" stroke="#222" stroke-width="0.18">A</text>
<text x="237.46" y="381.15" font-size="5.6" text-anchor="middle" fill="#222" stroke="#222" stroke-width="0.18">C</text>
<text x="287.27" y="381.15" font-size="5.6" text-anchor="middle" fill="#222" stroke="#222" stroke-width="0.18">E</text>
<text x="262.98" y="256.25" font-size="5.7" text-anchor="middle" fill="#222" stroke="#222" stroke-width="0.18">With Na<tspan font-size="3.6" dy="-2">+</tspan><tspan dy="2"> calibration</tspan></text>
<text x="262.98" y="396.60" font-size="5.6" text-anchor="middle" fill="#333" stroke="#333" stroke-width="0.18">Reference glucose (mM)</text>
<text x="191.90" y="320.83" font-size="5.3" text-anchor="middle" fill="#333" transform="rotate(-90 191.90 320.83)" stroke="#333" stroke-width="0.18">Predicted glucose (mM)</text>
<text x="170.00" y="260.35" font-size="14" text-anchor="start" fill="#000" font-weight="bold">e</text>
<line x1="371.50" y1="383.60" x2="497.05" y2="258.05" stroke="#222" stroke-width="0.75"/>
<line x1="371.50" y1="343.10" x2="387.25" y2="343.10" stroke="#3a3a3a" stroke-width="0.6"/>
<line x1="387.25" y1="343.10" x2="472.30" y2="258.05" stroke="#3a3a3a" stroke-width="0.6"/>
<line x1="371.50" y1="367.85" x2="384.63" y2="367.85" stroke="#3a3a3a" stroke-width="0.6"/>
<line x1="384.63" y1="367.85" x2="476.12" y2="258.05" stroke="#3a3a3a" stroke-width="0.6"/>
<line x1="387.25" y1="364.70" x2="387.25" y2="258.05" stroke="#3a3a3a" stroke-width="0.6"/>
<line x1="387.25" y1="383.60" x2="387.25" y2="371.00" stroke="#3a3a3a" stroke-width="0.6"/>
<line x1="387.25" y1="371.00" x2="497.05" y2="283.16" stroke="#3a3a3a" stroke-width="0.6"/>
<line x1="412.00" y1="383.60" x2="412.00" y2="367.85" stroke="#3a3a3a" stroke-width="0.6"/>
<line x1="412.00" y1="367.85" x2="497.05" y2="367.85" stroke="#3a3a3a" stroke-width="0.6"/>
<line x1="425.49" y1="367.85" x2="425.49" y2="343.10" stroke="#3a3a3a" stroke-width="0.6"/>
<line x1="425.49" y1="343.10" x2="497.05" y2="343.10" stroke="#3a3a3a" stroke-width="0.6"/>
<line x1="400.75" y1="383.60" x2="412.00" y2="367.85" stroke="#3a3a3a" stroke-width="0.6"/>
<line x1="371.50" y1="367.85" x2="412.00" y2="367.85" stroke="#c9c9c9" stroke-width="1.2"/>
<circle cx="390.54" cy="364.97" r="0.9" fill="#27489a"/>
<circle cx="391.75" cy="364.16" r="0.9" fill="#27489a"/>
<circle cx="392.56" cy="362.95" r="0.9" fill="#27489a"/>
<circle cx="393.77" cy="361.73" r="0.9" fill="#27489a"/>
<circle cx="394.99" cy="360.92" r="0.9" fill="#27489a"/>
<circle cx="396.20" cy="359.71" r="0.9" fill="#27489a"/>
<circle cx="397.42" cy="358.90" r="0.9" fill="#27489a"/>
<circle cx="398.23" cy="358.09" r="0.9" fill="#27489a"/>
<circle cx="392.96" cy="363.75" r="0.9" fill="#27489a"/>
<circle cx="394.18" cy="363.35" r="0.9" fill="#27489a"/>
<circle cx="390.94" cy="363.75" r="0.9" fill="#27489a"/>
<circle cx="399.44" cy="357.68" r="0.9" fill="#27489a"/>
<circle cx="400.66" cy="358.49" r="0.9" fill="#27489a"/>
<circle cx="396.61" cy="361.73" r="0.9" fill="#27489a"/>
<circle cx="397.82" cy="361.33" r="0.9" fill="#27489a"/>
<circle cx="397.01" cy="343.91" r="0.9" fill="#27489a"/>
<circle cx="402.28" cy="346.75" r="0.9" fill="#27489a"/>
<circle cx="399.85" cy="348.37" r="0.9" fill="#27489a"/>
<circle cx="405.52" cy="350.39" r="0.9" fill="#27489a"/>
<circle cx="394.58" cy="353.63" r="0.9" fill="#27489a"/>
<circle cx="399.44" cy="352.82" r="0.9" fill="#27489a"/>
<circle cx="401.47" cy="354.04" r="0.9" fill="#27489a"/>
<circle cx="394.18" cy="357.68" r="0.9" fill="#27489a"/>
<circle cx="396.61" cy="356.87" r="0.9" fill="#27489a"/>
<circle cx="398.63" cy="356.87" r="0.9" fill="#27489a"/>
<circle cx="400.66" cy="356.47" r="0.9" fill="#27489a"/>
<circle cx="402.69" cy="357.68" r="0.9" fill="#27489a"/>
<circle cx="396.20" cy="358.90" r="0.9" fill="#27489a"/>
<circle cx="397.82" cy="359.30" r="0.9" fill="#27489a"/>
<circle cx="399.85" cy="358.90" r="0.9" fill="#27489a"/>
<circle cx="403.50" cy="358.90" r="0.9" fill="#27489a"/>
<circle cx="393.37" cy="360.11" r="0.9" fill="#27489a"/>
<circle cx="395.39" cy="360.11" r="0.9" fill="#27489a"/>
<circle cx="399.04" cy="360.92" r="0.9" fill="#27489a"/>
<circle cx="402.28" cy="360.52" r="0.9" fill="#27489a"/>
<circle cx="392.15" cy="362.14" r="0.9" fill="#27489a"/>
<circle cx="394.18" cy="362.54" r="0.9" fill="#27489a"/>
<circle cx="397.01" cy="362.14" r="0.9" fill="#27489a"/>
<circle cx="391.35" cy="363.75" r="0.9" fill="#27489a"/>
<circle cx="392.96" cy="364.56" r="0.9" fill="#27489a"/>
<circle cx="394.58" cy="364.97" r="0.9" fill="#27489a"/>
<circle cx="389.73" cy="365.38" r="0.9" fill="#27489a"/>
<circle cx="399.44" cy="364.97" r="0.9" fill="#27489a"/>
<circle cx="401.47" cy="365.38" r="0.9" fill="#27489a"/>
<circle cx="406.33" cy="364.97" r="0.9" fill="#27489a"/>
<circle cx="395.80" cy="360.92" r="0.9" fill="#27489a"/>
<circle cx="397.42" cy="360.11" r="0.9" fill="#27489a"/>
<circle cx="394.99" cy="363.35" r="0.9" fill="#27489a"/>
<circle cx="392.56" cy="363.35" r="0.9" fill="#27489a"/>
<rect x="371.50" y="258.05" width="125.55" height="125.55" fill="none" stroke="#444" stroke-width="0.6"/>
<line x1="371.50" y1="383.60" x2="371.50" y2="382.30" stroke="#444" stroke-width="0.5"/>
<line x1="371.50" y1="258.05" x2="371.50" y2="259.35" stroke="#444" stroke-width="0.5"/>
<line x1="371.50" y1="383.60" x2="372.80" y2="383.60" stroke="#444" stroke-width="0.5"/>
<line x1="497.05" y1="383.60" x2="495.75" y2="383.60" stroke="#444" stroke-width="0.5"/>
<text x="371.50" y="389.90" font-size="5.0" text-anchor="middle" fill="#333" stroke="#333" stroke-width="0.18">0</text>
<text x="369.50" y="385.90" font-size="5.0" text-anchor="end" fill="#333" stroke="#333" stroke-width="0.18">0</text>
<line x1="391.75" y1="383.60" x2="391.75" y2="382.30" stroke="#444" stroke-width="0.5"/>
<line x1="391.75" y1="258.05" x2="391.75" y2="259.35" stroke="#444" stroke-width="0.5"/>
<line x1="371.50" y1="363.35" x2="372.80" y2="363.35" stroke="#444" stroke-width="0.5"/>
<line x1="497.05" y1="363.35" x2="495.75" y2="363.35" stroke="#444" stroke-width="0.5"/>
<text x="391.75" y="389.90" font-size="5.0" text-anchor="middle" fill="#333" stroke="#333" stroke-width="0.18">5</text>
<text x="369.50" y="365.65" font-size="5.0" text-anchor="end" fill="#333" stroke="#333" stroke-width="0.18">5</text>
<line x1="412.00" y1="383.60" x2="412.00" y2="382.30" stroke="#444" stroke-width="0.5"/>
<line x1="412.00" y1="258.05" x2="412.00" y2="259.35" stroke="#444" stroke-width="0.5"/>
<line x1="371.50" y1="343.10" x2="372.80" y2="343.10" stroke="#444" stroke-width="0.5"/>
<line x1="497.05" y1="343.10" x2="495.75" y2="343.10" stroke="#444" stroke-width="0.5"/>
<text x="412.00" y="389.90" font-size="5.0" text-anchor="middle" fill="#333" stroke="#333" stroke-width="0.18">10</text>
<text x="369.50" y="345.40" font-size="5.0" text-anchor="end" fill="#333" stroke="#333" stroke-width="0.18">10</text>
<line x1="432.25" y1="383.60" x2="432.25" y2="382.30" stroke="#444" stroke-width="0.5"/>
<line x1="432.25" y1="258.05" x2="432.25" y2="259.35" stroke="#444" stroke-width="0.5"/>
<line x1="371.50" y1="322.85" x2="372.80" y2="322.85" stroke="#444" stroke-width="0.5"/>
<line x1="497.05" y1="322.85" x2="495.75" y2="322.85" stroke="#444" stroke-width="0.5"/>
<text x="432.25" y="389.90" font-size="5.0" text-anchor="middle" fill="#333" stroke="#333" stroke-width="0.18">15</text>
<text x="369.50" y="325.15" font-size="5.0" text-anchor="end" fill="#333" stroke="#333" stroke-width="0.18">15</text>
<line x1="452.50" y1="383.60" x2="452.50" y2="382.30" stroke="#444" stroke-width="0.5"/>
<line x1="452.50" y1="258.05" x2="452.50" y2="259.35" stroke="#444" stroke-width="0.5"/>
<line x1="371.50" y1="302.60" x2="372.80" y2="302.60" stroke="#444" stroke-width="0.5"/>
<line x1="497.05" y1="302.60" x2="495.75" y2="302.60" stroke="#444" stroke-width="0.5"/>
<text x="452.50" y="389.90" font-size="5.0" text-anchor="middle" fill="#333" stroke="#333" stroke-width="0.18">20</text>
<text x="369.50" y="304.90" font-size="5.0" text-anchor="end" fill="#333" stroke="#333" stroke-width="0.18">20</text>
<line x1="472.75" y1="383.60" x2="472.75" y2="382.30" stroke="#444" stroke-width="0.5"/>
<line x1="472.75" y1="258.05" x2="472.75" y2="259.35" stroke="#444" stroke-width="0.5"/>
<line x1="371.50" y1="282.35" x2="372.80" y2="282.35" stroke="#444" stroke-width="0.5"/>
<line x1="497.05" y1="282.35" x2="495.75" y2="282.35" stroke="#444" stroke-width="0.5"/>
<text x="472.75" y="389.90" font-size="5.0" text-anchor="middle" fill="#333" stroke="#333" stroke-width="0.18">25</text>
<text x="369.50" y="284.65" font-size="5.0" text-anchor="end" fill="#333" stroke="#333" stroke-width="0.18">25</text>
<line x1="493.00" y1="383.60" x2="493.00" y2="382.30" stroke="#444" stroke-width="0.5"/>
<line x1="493.00" y1="258.05" x2="493.00" y2="259.35" stroke="#444" stroke-width="0.5"/>
<line x1="371.50" y1="262.10" x2="372.80" y2="262.10" stroke="#444" stroke-width="0.5"/>
<line x1="497.05" y1="262.10" x2="495.75" y2="262.10" stroke="#444" stroke-width="0.5"/>
<text x="493.00" y="389.90" font-size="5.0" text-anchor="middle" fill="#333" stroke="#333" stroke-width="0.18">30</text>
<text x="369.50" y="264.40" font-size="5.0" text-anchor="end" fill="#333" stroke="#333" stroke-width="0.18">30</text>
<text x="379.32" y="300.15" font-size="5.6" text-anchor="middle" fill="#222" stroke="#222" stroke-width="0.18">E</text>
<text x="406.33" y="300.15" font-size="5.6" text-anchor="middle" fill="#222" stroke="#222" stroke-width="0.18">C</text>
<text x="435.49" y="300.15" font-size="5.6" text-anchor="middle" fill="#222" stroke="#222" stroke-width="0.18">B</text>
<text x="458.57" y="327.28" font-size="5.6" text-anchor="middle" fill="#222" stroke="#222" stroke-width="0.18">B</text>
<text x="379.32" y="351.99" font-size="5.6" text-anchor="middle" fill="#222" stroke="#222" stroke-width="0.18">D</text>
<text x="458.57" y="359.28" font-size="5.6" text-anchor="middle" fill="#222" stroke="#222" stroke-width="0.18">D</text>
<text x="379.32" y="381.15" font-size="5.6" text-anchor="middle" fill="#222" stroke="#222" stroke-width="0.18">A</text>
<text x="408.76" y="381.15" font-size="5.6" text-anchor="middle" fill="#222" stroke="#222" stroke-width="0.18">C</text>
<text x="458.57" y="381.15" font-size="5.6" text-anchor="middle" fill="#222" stroke="#222" stroke-width="0.18">E</text>
<text x="434.27" y="256.25" font-size="5.7" text-anchor="middle" fill="#222" stroke="#222" stroke-width="0.18">With Na<tspan font-size="3.6" dy="-2">+</tspan><tspan dy="2"> and pH calibration</tspan></text>
<text x="434.27" y="396.60" font-size="5.6" text-anchor="middle" fill="#333" stroke="#333" stroke-width="0.18">Reference glucose (mM)</text>
<text x="363.20" y="320.83" font-size="5.3" text-anchor="middle" fill="#333" transform="rotate(-90 363.20 320.83)" stroke="#333" stroke-width="0.18">Predicted glucose (mM)</text>
<text x="341.20" y="260.35" font-size="14" text-anchor="start" fill="#000" font-weight="bold">f</text>
<line x1="44.39" y1="545.20" x2="44.39" y2="419.34" stroke="#c9c9c9" stroke-width="1.3"/>
<line x1="82.72" y1="504.60" x2="154.46" y2="504.60" stroke="#c9c9c9" stroke-width="1.2"/>
<line x1="28.60" y1="545.20" x2="154.46" y2="419.34" stroke="#222" stroke-width="0.75"/>
<line x1="28.60" y1="504.60" x2="44.39" y2="504.60" stroke="#3a3a3a" stroke-width="0.6"/>
<line x1="44.39" y1="504.60" x2="129.65" y2="419.34" stroke="#3a3a3a" stroke-width="0.6"/>
<line x1="28.60" y1="529.41" x2="41.76" y2="529.41" stroke="#888" stroke-width="0.6"/>
<line x1="41.76" y1="529.41" x2="133.48" y2="419.34" stroke="#3a3a3a" stroke-width="0.6"/>
<line x1="44.39" y1="532.57" x2="154.46" y2="444.51" stroke="#3a3a3a" stroke-width="0.6"/>
<line x1="69.20" y1="545.20" x2="69.20" y2="529.41" stroke="#3a3a3a" stroke-width="0.6"/>
<line x1="69.20" y1="529.41" x2="154.46" y2="529.41" stroke="#3a3a3a" stroke-width="0.6"/>
<line x1="82.72" y1="529.41" x2="82.72" y2="504.60" stroke="#3a3a3a" stroke-width="0.6"/>
<line x1="57.92" y1="545.20" x2="69.20" y2="529.41" stroke="#3a3a3a" stroke-width="0.6"/>
<line x1="28.60" y1="529.41" x2="69.20" y2="529.41" stroke="#c9c9c9" stroke-width="1.2"/>
<circle cx="52.31" cy="419.34" r="0.9" fill="#f3836e"/>
<circle cx="109.80" cy="419.34" r="0.9" fill="#f3836e"/>
<circle cx="113.86" cy="419.34" r="0.9" fill="#f3836e"/>
<circle cx="115.08" cy="419.34" r="0.9" fill="#f3836e"/>
<circle cx="121.98" cy="425.43" r="0.9" fill="#f3836e"/>
<circle cx="122.79" cy="431.93" r="0.9" fill="#f3836e"/>
<circle cx="112.64" cy="434.36" r="0.9" fill="#f3836e"/>
<circle cx="89.09" cy="441.67" r="0.9" fill="#f3836e"/>
<circle cx="108.18" cy="442.89" r="0.9" fill="#f3836e"/>
<circle cx="74.48" cy="460.75" r="0.9" fill="#f3836e"/>
<circle cx="86.25" cy="459.13" r="0.9" fill="#f3836e"/>
<circle cx="93.97" cy="458.32" r="0.9" fill="#f3836e"/>
<circle cx="86.66" cy="472.93" r="0.9" fill="#f3836e"/>
<circle cx="96.00" cy="471.71" r="0.9" fill="#f3836e"/>
<circle cx="77.32" cy="473.74" r="0.9" fill="#f3836e"/>
<circle cx="95.18" cy="474.96" r="0.9" fill="#f3836e"/>
<circle cx="77.32" cy="479.83" r="0.9" fill="#f3836e"/>
<circle cx="118.33" cy="477.40" r="0.9" fill="#f3836e"/>
<circle cx="131.32" cy="482.68" r="0.9" fill="#f3836e"/>
<circle cx="116.70" cy="483.08" r="0.9" fill="#f3836e"/>
<circle cx="109.39" cy="486.74" r="0.9" fill="#f3836e"/>
<circle cx="110.21" cy="485.92" r="0.9" fill="#f3836e"/>
<circle cx="60.27" cy="489.58" r="0.9" fill="#f3836e"/>
<circle cx="70.82" cy="488.36" r="0.9" fill="#f3836e"/>
<circle cx="93.97" cy="488.36" r="0.9" fill="#f3836e"/>
<circle cx="96.40" cy="490.80" r="0.9" fill="#f3836e"/>
<circle cx="63.11" cy="496.48" r="0.9" fill="#f3836e"/>
<circle cx="82.19" cy="492.83" r="0.9" fill="#f3836e"/>
<circle cx="77.73" cy="496.48" r="0.9" fill="#f3836e"/>
<circle cx="90.72" cy="496.48" r="0.9" fill="#f3836e"/>
<circle cx="96.40" cy="499.32" r="0.9" fill="#f3836e"/>
<circle cx="102.90" cy="501.76" r="0.9" fill="#f3836e"/>
<circle cx="111.83" cy="500.95" r="0.9" fill="#f3836e"/>
<circle cx="115.48" cy="498.92" r="0.9" fill="#f3836e"/>
<circle cx="68.79" cy="505.41" r="0.9" fill="#f3836e"/>
<circle cx="57.83" cy="505.82" r="0.9" fill="#f3836e"/>
<circle cx="72.45" cy="502.57" r="0.9" fill="#f3836e"/>
<circle cx="84.63" cy="502.98" r="0.9" fill="#f3836e"/>
<circle cx="92.75" cy="508.25" r="0.9" fill="#f3836e"/>
<circle cx="101.68" cy="508.25" r="0.9" fill="#f3836e"/>
<circle cx="73.67" cy="510.69" r="0.9" fill="#f3836e"/>
<circle cx="55.80" cy="513.53" r="0.9" fill="#f3836e"/>
<circle cx="76.10" cy="514.34" r="0.9" fill="#f3836e"/>
<circle cx="83.82" cy="514.75" r="0.9" fill="#f3836e"/>
<circle cx="91.12" cy="515.97" r="0.9" fill="#f3836e"/>
<circle cx="103.30" cy="517.19" r="0.9" fill="#f3836e"/>
<circle cx="70.01" cy="519.62" r="0.9" fill="#f3836e"/>
<circle cx="53.37" cy="520.03" r="0.9" fill="#f3836e"/>
<circle cx="83.82" cy="519.62" r="0.9" fill="#f3836e"/>
<circle cx="85.44" cy="523.68" r="0.9" fill="#f3836e"/>
<circle cx="59.46" cy="524.49" r="0.9" fill="#f3836e"/>
<circle cx="53.37" cy="524.49" r="0.9" fill="#f3836e"/>
<circle cx="100.06" cy="526.12" r="0.9" fill="#f3836e"/>
<circle cx="83.00" cy="524.90" r="0.9" fill="#f3836e"/>
<circle cx="119.54" cy="527.34" r="0.9" fill="#f3836e"/>
<circle cx="124.42" cy="529.77" r="0.9" fill="#f3836e"/>
<rect x="28.60" y="419.34" width="125.86" height="125.86" fill="none" stroke="#444" stroke-width="0.6"/>
<line x1="28.60" y1="545.20" x2="28.60" y2="543.90" stroke="#444" stroke-width="0.5"/>
<line x1="28.60" y1="419.34" x2="28.60" y2="420.64" stroke="#444" stroke-width="0.5"/>
<line x1="28.60" y1="545.20" x2="29.90" y2="545.20" stroke="#444" stroke-width="0.5"/>
<line x1="154.46" y1="545.20" x2="153.16" y2="545.20" stroke="#444" stroke-width="0.5"/>
<text x="28.60" y="551.50" font-size="5.0" text-anchor="middle" fill="#333" stroke="#333" stroke-width="0.18">0</text>
<text x="26.60" y="547.50" font-size="5.0" text-anchor="end" fill="#333" stroke="#333" stroke-width="0.18">0</text>
<line x1="48.90" y1="545.20" x2="48.90" y2="543.90" stroke="#444" stroke-width="0.5"/>
<line x1="48.90" y1="419.34" x2="48.90" y2="420.64" stroke="#444" stroke-width="0.5"/>
<line x1="28.60" y1="524.90" x2="29.90" y2="524.90" stroke="#444" stroke-width="0.5"/>
<line x1="154.46" y1="524.90" x2="153.16" y2="524.90" stroke="#444" stroke-width="0.5"/>
<text x="48.90" y="551.50" font-size="5.0" text-anchor="middle" fill="#333" stroke="#333" stroke-width="0.18">5</text>
<text x="26.60" y="527.20" font-size="5.0" text-anchor="end" fill="#333" stroke="#333" stroke-width="0.18">5</text>
<line x1="69.20" y1="545.20" x2="69.20" y2="543.90" stroke="#444" stroke-width="0.5"/>
<line x1="69.20" y1="419.34" x2="69.20" y2="420.64" stroke="#444" stroke-width="0.5"/>
<line x1="28.60" y1="504.60" x2="29.90" y2="504.60" stroke="#444" stroke-width="0.5"/>
<line x1="154.46" y1="504.60" x2="153.16" y2="504.60" stroke="#444" stroke-width="0.5"/>
<text x="69.20" y="551.50" font-size="5.0" text-anchor="middle" fill="#333" stroke="#333" stroke-width="0.18">10</text>
<text x="26.60" y="506.90" font-size="5.0" text-anchor="end" fill="#333" stroke="#333" stroke-width="0.18">10</text>
<line x1="89.50" y1="545.20" x2="89.50" y2="543.90" stroke="#444" stroke-width="0.5"/>
<line x1="89.50" y1="419.34" x2="89.50" y2="420.64" stroke="#444" stroke-width="0.5"/>
<line x1="28.60" y1="484.30" x2="29.90" y2="484.30" stroke="#444" stroke-width="0.5"/>
<line x1="154.46" y1="484.30" x2="153.16" y2="484.30" stroke="#444" stroke-width="0.5"/>
<text x="89.50" y="551.50" font-size="5.0" text-anchor="middle" fill="#333" stroke="#333" stroke-width="0.18">15</text>
<text x="26.60" y="486.60" font-size="5.0" text-anchor="end" fill="#333" stroke="#333" stroke-width="0.18">15</text>
<line x1="109.80" y1="545.20" x2="109.80" y2="543.90" stroke="#444" stroke-width="0.5"/>
<line x1="109.80" y1="419.34" x2="109.80" y2="420.64" stroke="#444" stroke-width="0.5"/>
<line x1="28.60" y1="464.00" x2="29.90" y2="464.00" stroke="#444" stroke-width="0.5"/>
<line x1="154.46" y1="464.00" x2="153.16" y2="464.00" stroke="#444" stroke-width="0.5"/>
<text x="109.80" y="551.50" font-size="5.0" text-anchor="middle" fill="#333" stroke="#333" stroke-width="0.18">20</text>
<text x="26.60" y="466.30" font-size="5.0" text-anchor="end" fill="#333" stroke="#333" stroke-width="0.18">20</text>
<line x1="130.10" y1="545.20" x2="130.10" y2="543.90" stroke="#444" stroke-width="0.5"/>
<line x1="130.10" y1="419.34" x2="130.10" y2="420.64" stroke="#444" stroke-width="0.5"/>
<line x1="28.60" y1="443.70" x2="29.90" y2="443.70" stroke="#444" stroke-width="0.5"/>
<line x1="154.46" y1="443.70" x2="153.16" y2="443.70" stroke="#444" stroke-width="0.5"/>
<text x="130.10" y="551.50" font-size="5.0" text-anchor="middle" fill="#333" stroke="#333" stroke-width="0.18">25</text>
<text x="26.60" y="446.00" font-size="5.0" text-anchor="end" fill="#333" stroke="#333" stroke-width="0.18">25</text>
<line x1="150.40" y1="545.20" x2="150.40" y2="543.90" stroke="#444" stroke-width="0.5"/>
<line x1="150.40" y1="419.34" x2="150.40" y2="420.64" stroke="#444" stroke-width="0.5"/>
<line x1="28.60" y1="423.40" x2="29.90" y2="423.40" stroke="#444" stroke-width="0.5"/>
<line x1="154.46" y1="423.40" x2="153.16" y2="423.40" stroke="#444" stroke-width="0.5"/>
<text x="150.40" y="551.50" font-size="5.0" text-anchor="middle" fill="#333" stroke="#333" stroke-width="0.18">30</text>
<text x="26.60" y="425.70" font-size="5.0" text-anchor="end" fill="#333" stroke="#333" stroke-width="0.18">30</text>
<text x="36.44" y="461.53" font-size="5.6" text-anchor="middle" fill="#222" stroke="#222" stroke-width="0.18">E</text>
<text x="63.52" y="461.53" font-size="5.6" text-anchor="middle" fill="#222" stroke="#222" stroke-width="0.18">C</text>
<text x="92.75" y="461.53" font-size="5.6" text-anchor="middle" fill="#222" stroke="#222" stroke-width="0.18">B</text>
<text x="115.89" y="488.74" font-size="5.6" text-anchor="middle" fill="#222" stroke="#222" stroke-width="0.18">B</text>
<text x="36.44" y="513.50" font-size="5.6" text-anchor="middle" fill="#222" stroke="#222" stroke-width="0.18">D</text>
<text x="115.89" y="520.81" font-size="5.6" text-anchor="middle" fill="#222" stroke="#222" stroke-width="0.18">D</text>
<text x="36.44" y="542.73" font-size="5.6" text-anchor="middle" fill="#222" stroke="#222" stroke-width="0.18">A</text>
<text x="65.95" y="542.73" font-size="5.6" text-anchor="middle" fill="#222" stroke="#222" stroke-width="0.18">C</text>
<text x="115.89" y="542.73" font-size="5.6" text-anchor="middle" fill="#222" stroke="#222" stroke-width="0.18">E</text>
<text x="91.53" y="417.54" font-size="5.7" text-anchor="middle" fill="#222" stroke="#222" stroke-width="0.18">Without calibration</text>
<text x="91.53" y="558.20" font-size="5.6" text-anchor="middle" fill="#333" stroke="#333" stroke-width="0.18">Reference glucose (mM)</text>
<text x="20.30" y="482.27" font-size="5.3" text-anchor="middle" fill="#333" transform="rotate(-90 20.30 482.27)" stroke="#333" stroke-width="0.18">Predicted glucose (mM)</text>
<text x="0.00" y="421.64" font-size="14" text-anchor="start" fill="#000" font-weight="bold">h</text>
<line x1="216.19" y1="545.20" x2="216.19" y2="419.34" stroke="#c9c9c9" stroke-width="1.3"/>
<line x1="254.52" y1="504.60" x2="326.26" y2="504.60" stroke="#c9c9c9" stroke-width="1.2"/>
<line x1="200.40" y1="545.20" x2="326.26" y2="419.34" stroke="#222" stroke-width="0.75"/>
<line x1="200.40" y1="504.60" x2="216.19" y2="504.60" stroke="#3a3a3a" stroke-width="0.6"/>
<line x1="216.19" y1="504.60" x2="301.45" y2="419.34" stroke="#3a3a3a" stroke-width="0.6"/>
<line x1="200.40" y1="529.41" x2="213.56" y2="529.41" stroke="#888" stroke-width="0.6"/>
<line x1="213.56" y1="529.41" x2="305.28" y2="419.34" stroke="#3a3a3a" stroke-width="0.6"/>
<line x1="216.19" y1="532.57" x2="326.26" y2="444.51" stroke="#3a3a3a" stroke-width="0.6"/>
<line x1="241.00" y1="545.20" x2="241.00" y2="529.41" stroke="#3a3a3a" stroke-width="0.6"/>
<line x1="241.00" y1="529.41" x2="326.26" y2="529.41" stroke="#3a3a3a" stroke-width="0.6"/>
<line x1="254.52" y1="529.41" x2="254.52" y2="504.60" stroke="#3a3a3a" stroke-width="0.6"/>
<line x1="229.72" y1="545.20" x2="241.00" y2="529.41" stroke="#3a3a3a" stroke-width="0.6"/>
<line x1="200.40" y1="529.41" x2="241.00" y2="529.41" stroke="#c9c9c9" stroke-width="1.2"/>
<circle cx="279.57" cy="419.34" r="0.9" fill="#cd84f4"/>
<circle cx="284.85" cy="419.34" r="0.9" fill="#cd84f4"/>
<circle cx="242.62" cy="431.11" r="0.9" fill="#cd84f4"/>
<circle cx="294.19" cy="426.24" r="0.9" fill="#cd84f4"/>
<circle cx="290.94" cy="434.77" r="0.9" fill="#cd84f4"/>
<circle cx="248.31" cy="444.11" r="0.9" fill="#cd84f4"/>
<circle cx="256.02" cy="447.76" r="0.9" fill="#cd84f4"/>
<circle cx="262.52" cy="442.89" r="0.9" fill="#cd84f4"/>
<circle cx="273.48" cy="440.45" r="0.9" fill="#cd84f4"/>
<circle cx="287.69" cy="444.92" r="0.9" fill="#cd84f4"/>
<circle cx="262.92" cy="453.44" r="0.9" fill="#cd84f4"/>
<circle cx="268.20" cy="454.66" r="0.9" fill="#cd84f4"/>
<circle cx="284.85" cy="455.88" r="0.9" fill="#cd84f4"/>
<circle cx="294.59" cy="450.60" r="0.9" fill="#cd84f4"/>
<circle cx="256.43" cy="463.19" r="0.9" fill="#cd84f4"/>
<circle cx="274.29" cy="462.78" r="0.9" fill="#cd84f4"/>
<circle cx="282.01" cy="466.84" r="0.9" fill="#cd84f4"/>
<circle cx="241.81" cy="472.53" r="0.9" fill="#cd84f4"/>
<circle cx="258.46" cy="480.24" r="0.9" fill="#cd84f4"/>
<circle cx="261.71" cy="483.08" r="0.9" fill="#cd84f4"/>
<circle cx="266.98" cy="484.30" r="0.9" fill="#cd84f4"/>
<circle cx="270.64" cy="483.89" r="0.9" fill="#cd84f4"/>
<circle cx="266.98" cy="487.95" r="0.9" fill="#cd84f4"/>
<circle cx="284.44" cy="478.21" r="0.9" fill="#cd84f4"/>
<circle cx="296.22" cy="474.15" r="0.9" fill="#cd84f4"/>
<circle cx="264.14" cy="494.04" r="0.9" fill="#cd84f4"/>
<circle cx="275.51" cy="492.01" r="0.9" fill="#cd84f4"/>
<circle cx="253.59" cy="497.29" r="0.9" fill="#cd84f4"/>
<circle cx="249.93" cy="496.07" r="0.9" fill="#cd84f4"/>
<circle cx="267.80" cy="500.13" r="0.9" fill="#cd84f4"/>
<circle cx="275.92" cy="497.29" r="0.9" fill="#cd84f4"/>
<circle cx="280.38" cy="501.35" r="0.9" fill="#cd84f4"/>
<circle cx="290.94" cy="494.86" r="0.9" fill="#cd84f4"/>
<circle cx="267.80" cy="505.01" r="0.9" fill="#cd84f4"/>
<circle cx="244.65" cy="501.76" r="0.9" fill="#cd84f4"/>
<circle cx="241.00" cy="504.19" r="0.9" fill="#cd84f4"/>
<circle cx="234.50" cy="510.69" r="0.9" fill="#cd84f4"/>
<circle cx="228.01" cy="512.31" r="0.9" fill="#cd84f4"/>
<circle cx="245.87" cy="508.66" r="0.9" fill="#cd84f4"/>
<circle cx="256.02" cy="509.88" r="0.9" fill="#cd84f4"/>
<circle cx="258.86" cy="508.66" r="0.9" fill="#cd84f4"/>
<circle cx="281.60" cy="507.44" r="0.9" fill="#cd84f4"/>
<circle cx="282.82" cy="513.53" r="0.9" fill="#cd84f4"/>
<circle cx="272.67" cy="516.37" r="0.9" fill="#cd84f4"/>
<circle cx="225.57" cy="518.81" r="0.9" fill="#cd84f4"/>
<circle cx="231.66" cy="521.25" r="0.9" fill="#cd84f4"/>
<circle cx="245.87" cy="519.22" r="0.9" fill="#cd84f4"/>
<circle cx="249.53" cy="516.78" r="0.9" fill="#cd84f4"/>
<circle cx="255.21" cy="520.43" r="0.9" fill="#cd84f4"/>
<circle cx="265.77" cy="519.22" r="0.9" fill="#cd84f4"/>
<circle cx="259.68" cy="524.49" r="0.9" fill="#cd84f4"/>
<circle cx="229.23" cy="528.15" r="0.9" fill="#cd84f4"/>
<circle cx="243.44" cy="533.02" r="0.9" fill="#cd84f4"/>
<circle cx="257.65" cy="534.64" r="0.9" fill="#cd84f4"/>
<circle cx="230.85" cy="516.78" r="0.9" fill="#cd84f4"/>
<circle cx="236.94" cy="509.47" r="0.9" fill="#cd84f4"/>
<rect x="200.40" y="419.34" width="125.86" height="125.86" fill="none" stroke="#444" stroke-width="0.6"/>
<line x1="200.40" y1="545.20" x2="200.40" y2="543.90" stroke="#444" stroke-width="0.5"/>
<line x1="200.40" y1="419.34" x2="200.40" y2="420.64" stroke="#444" stroke-width="0.5"/>
<line x1="200.40" y1="545.20" x2="201.70" y2="545.20" stroke="#444" stroke-width="0.5"/>
<line x1="326.26" y1="545.20" x2="324.96" y2="545.20" stroke="#444" stroke-width="0.5"/>
<text x="200.40" y="551.50" font-size="5.0" text-anchor="middle" fill="#333" stroke="#333" stroke-width="0.18">0</text>
<text x="198.40" y="547.50" font-size="5.0" text-anchor="end" fill="#333" stroke="#333" stroke-width="0.18">0</text>
<line x1="220.70" y1="545.20" x2="220.70" y2="543.90" stroke="#444" stroke-width="0.5"/>
<line x1="220.70" y1="419.34" x2="220.70" y2="420.64" stroke="#444" stroke-width="0.5"/>
<line x1="200.40" y1="524.90" x2="201.70" y2="524.90" stroke="#444" stroke-width="0.5"/>
<line x1="326.26" y1="524.90" x2="324.96" y2="524.90" stroke="#444" stroke-width="0.5"/>
<text x="220.70" y="551.50" font-size="5.0" text-anchor="middle" fill="#333" stroke="#333" stroke-width="0.18">5</text>
<text x="198.40" y="527.20" font-size="5.0" text-anchor="end" fill="#333" stroke="#333" stroke-width="0.18">5</text>
<line x1="241.00" y1="545.20" x2="241.00" y2="543.90" stroke="#444" stroke-width="0.5"/>
<line x1="241.00" y1="419.34" x2="241.00" y2="420.64" stroke="#444" stroke-width="0.5"/>
<line x1="200.40" y1="504.60" x2="201.70" y2="504.60" stroke="#444" stroke-width="0.5"/>
<line x1="326.26" y1="504.60" x2="324.96" y2="504.60" stroke="#444" stroke-width="0.5"/>
<text x="241.00" y="551.50" font-size="5.0" text-anchor="middle" fill="#333" stroke="#333" stroke-width="0.18">10</text>
<text x="198.40" y="506.90" font-size="5.0" text-anchor="end" fill="#333" stroke="#333" stroke-width="0.18">10</text>
<line x1="261.30" y1="545.20" x2="261.30" y2="543.90" stroke="#444" stroke-width="0.5"/>
<line x1="261.30" y1="419.34" x2="261.30" y2="420.64" stroke="#444" stroke-width="0.5"/>
<line x1="200.40" y1="484.30" x2="201.70" y2="484.30" stroke="#444" stroke-width="0.5"/>
<line x1="326.26" y1="484.30" x2="324.96" y2="484.30" stroke="#444" stroke-width="0.5"/>
<text x="261.30" y="551.50" font-size="5.0" text-anchor="middle" fill="#333" stroke="#333" stroke-width="0.18">15</text>
<text x="198.40" y="486.60" font-size="5.0" text-anchor="end" fill="#333" stroke="#333" stroke-width="0.18">15</text>
<line x1="281.60" y1="545.20" x2="281.60" y2="543.90" stroke="#444" stroke-width="0.5"/>
<line x1="281.60" y1="419.34" x2="281.60" y2="420.64" stroke="#444" stroke-width="0.5"/>
<line x1="200.40" y1="464.00" x2="201.70" y2="464.00" stroke="#444" stroke-width="0.5"/>
<line x1="326.26" y1="464.00" x2="324.96" y2="464.00" stroke="#444" stroke-width="0.5"/>
<text x="281.60" y="551.50" font-size="5.0" text-anchor="middle" fill="#333" stroke="#333" stroke-width="0.18">20</text>
<text x="198.40" y="466.30" font-size="5.0" text-anchor="end" fill="#333" stroke="#333" stroke-width="0.18">20</text>
<line x1="301.90" y1="545.20" x2="301.90" y2="543.90" stroke="#444" stroke-width="0.5"/>
<line x1="301.90" y1="419.34" x2="301.90" y2="420.64" stroke="#444" stroke-width="0.5"/>
<line x1="200.40" y1="443.70" x2="201.70" y2="443.70" stroke="#444" stroke-width="0.5"/>
<line x1="326.26" y1="443.70" x2="324.96" y2="443.70" stroke="#444" stroke-width="0.5"/>
<text x="301.90" y="551.50" font-size="5.0" text-anchor="middle" fill="#333" stroke="#333" stroke-width="0.18">25</text>
<text x="198.40" y="446.00" font-size="5.0" text-anchor="end" fill="#333" stroke="#333" stroke-width="0.18">25</text>
<line x1="322.20" y1="545.20" x2="322.20" y2="543.90" stroke="#444" stroke-width="0.5"/>
<line x1="322.20" y1="419.34" x2="322.20" y2="420.64" stroke="#444" stroke-width="0.5"/>
<line x1="200.40" y1="423.40" x2="201.70" y2="423.40" stroke="#444" stroke-width="0.5"/>
<line x1="326.26" y1="423.40" x2="324.96" y2="423.40" stroke="#444" stroke-width="0.5"/>
<text x="322.20" y="551.50" font-size="5.0" text-anchor="middle" fill="#333" stroke="#333" stroke-width="0.18">30</text>
<text x="198.40" y="425.70" font-size="5.0" text-anchor="end" fill="#333" stroke="#333" stroke-width="0.18">30</text>
<text x="208.24" y="461.53" font-size="5.6" text-anchor="middle" fill="#222" stroke="#222" stroke-width="0.18">E</text>
<text x="235.32" y="461.53" font-size="5.6" text-anchor="middle" fill="#222" stroke="#222" stroke-width="0.18">C</text>
<text x="264.55" y="461.53" font-size="5.6" text-anchor="middle" fill="#222" stroke="#222" stroke-width="0.18">B</text>
<text x="287.69" y="488.74" font-size="5.6" text-anchor="middle" fill="#222" stroke="#222" stroke-width="0.18">B</text>
<text x="208.24" y="513.50" font-size="5.6" text-anchor="middle" fill="#222" stroke="#222" stroke-width="0.18">D</text>
<text x="287.69" y="520.81" font-size="5.6" text-anchor="middle" fill="#222" stroke="#222" stroke-width="0.18">D</text>
<text x="208.24" y="542.73" font-size="5.6" text-anchor="middle" fill="#222" stroke="#222" stroke-width="0.18">A</text>
<text x="237.75" y="542.73" font-size="5.6" text-anchor="middle" fill="#222" stroke="#222" stroke-width="0.18">C</text>
<text x="287.69" y="542.73" font-size="5.6" text-anchor="middle" fill="#222" stroke="#222" stroke-width="0.18">E</text>
<text x="263.33" y="417.54" font-size="5.7" text-anchor="middle" fill="#222" stroke="#222" stroke-width="0.18">With Na<tspan font-size="3.6" dy="-2">+</tspan><tspan dy="2"> calibration</tspan></text>
<text x="263.33" y="558.20" font-size="5.6" text-anchor="middle" fill="#333" stroke="#333" stroke-width="0.18">Reference glucose (mM)</text>
<text x="192.10" y="482.27" font-size="5.3" text-anchor="middle" fill="#333" transform="rotate(-90 192.10 482.27)" stroke="#333" stroke-width="0.18">Predicted glucose (mM)</text>
<text x="170.00" y="421.64" font-size="14" text-anchor="start" fill="#000" font-weight="bold">i</text>
<line x1="425.82" y1="504.60" x2="497.56" y2="504.60" stroke="#c9c9c9" stroke-width="1.2"/>
<line x1="371.70" y1="545.20" x2="497.56" y2="419.34" stroke="#222" stroke-width="0.75"/>
<line x1="371.70" y1="504.60" x2="387.49" y2="504.60" stroke="#3a3a3a" stroke-width="0.6"/>
<line x1="387.49" y1="504.60" x2="472.75" y2="419.34" stroke="#3a3a3a" stroke-width="0.6"/>
<line x1="371.70" y1="529.41" x2="384.86" y2="529.41" stroke="#3a3a3a" stroke-width="0.6"/>
<line x1="384.86" y1="529.41" x2="476.58" y2="419.34" stroke="#3a3a3a" stroke-width="0.6"/>
<line x1="387.49" y1="526.25" x2="387.49" y2="419.34" stroke="#3a3a3a" stroke-width="0.6"/>
<line x1="387.49" y1="545.20" x2="387.49" y2="532.57" stroke="#3a3a3a" stroke-width="0.6"/>
<line x1="387.49" y1="532.57" x2="497.56" y2="444.51" stroke="#3a3a3a" stroke-width="0.6"/>
<line x1="412.30" y1="545.20" x2="412.30" y2="529.41" stroke="#3a3a3a" stroke-width="0.6"/>
<line x1="412.30" y1="529.41" x2="497.56" y2="529.41" stroke="#3a3a3a" stroke-width="0.6"/>
<line x1="425.82" y1="529.41" x2="425.82" y2="504.60" stroke="#3a3a3a" stroke-width="0.6"/>
<line x1="401.02" y1="545.20" x2="412.30" y2="529.41" stroke="#3a3a3a" stroke-width="0.6"/>
<line x1="371.70" y1="529.41" x2="412.30" y2="529.41" stroke="#c9c9c9" stroke-width="1.2"/>
<circle cx="466.70" cy="433.55" r="0.9" fill="#27489a"/>
<circle cx="453.31" cy="449.38" r="0.9" fill="#27489a"/>
<circle cx="462.64" cy="453.04" r="0.9" fill="#27489a"/>
<circle cx="465.49" cy="451.82" r="0.9" fill="#27489a"/>
<circle cx="450.06" cy="457.10" r="0.9" fill="#27489a"/>
<circle cx="446.00" cy="459.94" r="0.9" fill="#27489a"/>
<circle cx="456.15" cy="461.16" r="0.9" fill="#27489a"/>
<circle cx="459.40" cy="458.72" r="0.9" fill="#27489a"/>
<circle cx="474.42" cy="459.94" r="0.9" fill="#27489a"/>
<circle cx="427.73" cy="462.38" r="0.9" fill="#27489a"/>
<circle cx="433.41" cy="459.94" r="0.9" fill="#27489a"/>
<circle cx="413.11" cy="464.81" r="0.9" fill="#27489a"/>
<circle cx="430.16" cy="467.65" r="0.9" fill="#27489a"/>
<circle cx="438.69" cy="470.09" r="0.9" fill="#27489a"/>
<circle cx="440.31" cy="466.84" r="0.9" fill="#27489a"/>
<circle cx="443.97" cy="471.71" r="0.9" fill="#27489a"/>
<circle cx="451.68" cy="470.09" r="0.9" fill="#27489a"/>
<circle cx="455.34" cy="469.28" r="0.9" fill="#27489a"/>
<circle cx="456.96" cy="472.53" r="0.9" fill="#27489a"/>
<circle cx="414.33" cy="476.18" r="0.9" fill="#27489a"/>
<circle cx="435.85" cy="480.65" r="0.9" fill="#27489a"/>
<circle cx="427.32" cy="484.71" r="0.9" fill="#27489a"/>
<circle cx="434.63" cy="485.92" r="0.9" fill="#27489a"/>
<circle cx="439.10" cy="487.14" r="0.9" fill="#27489a"/>
<circle cx="442.75" cy="487.95" r="0.9" fill="#27489a"/>
<circle cx="446.40" cy="484.71" r="0.9" fill="#27489a"/>
<circle cx="467.92" cy="481.46" r="0.9" fill="#27489a"/>
<circle cx="430.98" cy="488.36" r="0.9" fill="#27489a"/>
<circle cx="435.85" cy="489.58" r="0.9" fill="#27489a"/>
<circle cx="438.28" cy="490.80" r="0.9" fill="#27489a"/>
<circle cx="445.19" cy="492.01" r="0.9" fill="#27489a"/>
<circle cx="417.98" cy="495.67" r="0.9" fill="#27489a"/>
<circle cx="420.42" cy="496.07" r="0.9" fill="#27489a"/>
<circle cx="426.10" cy="496.89" r="0.9" fill="#27489a"/>
<circle cx="434.63" cy="495.26" r="0.9" fill="#27489a"/>
<circle cx="454.12" cy="497.70" r="0.9" fill="#27489a"/>
<circle cx="463.05" cy="495.67" r="0.9" fill="#27489a"/>
<circle cx="416.36" cy="500.95" r="0.9" fill="#27489a"/>
<circle cx="438.69" cy="499.32" r="0.9" fill="#27489a"/>
<circle cx="439.91" cy="500.54" r="0.9" fill="#27489a"/>
<circle cx="438.28" cy="502.98" r="0.9" fill="#27489a"/>
<circle cx="430.16" cy="502.98" r="0.9" fill="#27489a"/>
<circle cx="412.30" cy="504.60" r="0.9" fill="#27489a"/>
<circle cx="417.58" cy="503.38" r="0.9" fill="#27489a"/>
<circle cx="420.83" cy="504.60" r="0.9" fill="#27489a"/>
<circle cx="402.96" cy="505.41" r="0.9" fill="#27489a"/>
<circle cx="407.02" cy="509.88" r="0.9" fill="#27489a"/>
<circle cx="403.77" cy="512.31" r="0.9" fill="#27489a"/>
<circle cx="399.31" cy="513.94" r="0.9" fill="#27489a"/>
<circle cx="396.06" cy="514.34" r="0.9" fill="#27489a"/>
<circle cx="400.93" cy="515.56" r="0.9" fill="#27489a"/>
<circle cx="397.68" cy="518.81" r="0.9" fill="#27489a"/>
<circle cx="417.98" cy="511.91" r="0.9" fill="#27489a"/>
<circle cx="427.73" cy="510.69" r="0.9" fill="#27489a"/>
<circle cx="438.69" cy="511.91" r="0.9" fill="#27489a"/>
<circle cx="414.33" cy="520.03" r="0.9" fill="#27489a"/>
<circle cx="429.35" cy="520.84" r="0.9" fill="#27489a"/>
<rect x="371.70" y="419.34" width="125.86" height="125.86" fill="none" stroke="#444" stroke-width="0.6"/>
<line x1="371.70" y1="545.20" x2="371.70" y2="543.90" stroke="#444" stroke-width="0.5"/>
<line x1="371.70" y1="419.34" x2="371.70" y2="420.64" stroke="#444" stroke-width="0.5"/>
<line x1="371.70" y1="545.20" x2="373.00" y2="545.20" stroke="#444" stroke-width="0.5"/>
<line x1="497.56" y1="545.20" x2="496.26" y2="545.20" stroke="#444" stroke-width="0.5"/>
<text x="371.70" y="551.50" font-size="5.0" text-anchor="middle" fill="#333" stroke="#333" stroke-width="0.18">0</text>
<text x="369.70" y="547.50" font-size="5.0" text-anchor="end" fill="#333" stroke="#333" stroke-width="0.18">0</text>
<line x1="392.00" y1="545.20" x2="392.00" y2="543.90" stroke="#444" stroke-width="0.5"/>
<line x1="392.00" y1="419.34" x2="392.00" y2="420.64" stroke="#444" stroke-width="0.5"/>
<line x1="371.70" y1="524.90" x2="373.00" y2="524.90" stroke="#444" stroke-width="0.5"/>
<line x1="497.56" y1="524.90" x2="496.26" y2="524.90" stroke="#444" stroke-width="0.5"/>
<text x="392.00" y="551.50" font-size="5.0" text-anchor="middle" fill="#333" stroke="#333" stroke-width="0.18">5</text>
<text x="369.70" y="527.20" font-size="5.0" text-anchor="end" fill="#333" stroke="#333" stroke-width="0.18">5</text>
<line x1="412.30" y1="545.20" x2="412.30" y2="543.90" stroke="#444" stroke-width="0.5"/>
<line x1="412.30" y1="419.34" x2="412.30" y2="420.64" stroke="#444" stroke-width="0.5"/>
<line x1="371.70" y1="504.60" x2="373.00" y2="504.60" stroke="#444" stroke-width="0.5"/>
<line x1="497.56" y1="504.60" x2="496.26" y2="504.60" stroke="#444" stroke-width="0.5"/>
<text x="412.30" y="551.50" font-size="5.0" text-anchor="middle" fill="#333" stroke="#333" stroke-width="0.18">10</text>
<text x="369.70" y="506.90" font-size="5.0" text-anchor="end" fill="#333" stroke="#333" stroke-width="0.18">10</text>
<line x1="432.60" y1="545.20" x2="432.60" y2="543.90" stroke="#444" stroke-width="0.5"/>
<line x1="432.60" y1="419.34" x2="432.60" y2="420.64" stroke="#444" stroke-width="0.5"/>
<line x1="371.70" y1="484.30" x2="373.00" y2="484.30" stroke="#444" stroke-width="0.5"/>
<line x1="497.56" y1="484.30" x2="496.26" y2="484.30" stroke="#444" stroke-width="0.5"/>
<text x="432.60" y="551.50" font-size="5.0" text-anchor="middle" fill="#333" stroke="#333" stroke-width="0.18">15</text>
<text x="369.70" y="486.60" font-size="5.0" text-anchor="end" fill="#333" stroke="#333" stroke-width="0.18">15</text>
<line x1="452.90" y1="545.20" x2="452.90" y2="543.90" stroke="#444" stroke-width="0.5"/>
<line x1="452.90" y1="419.34" x2="452.90" y2="420.64" stroke="#444" stroke-width="0.5"/>
<line x1="371.70" y1="464.00" x2="373.00" y2="464.00" stroke="#444" stroke-width="0.5"/>
<line x1="497.56" y1="464.00" x2="496.26" y2="464.00" stroke="#444" stroke-width="0.5"/>
<text x="452.90" y="551.50" font-size="5.0" text-anchor="middle" fill="#333" stroke="#333" stroke-width="0.18">20</text>
<text x="369.70" y="466.30" font-size="5.0" text-anchor="end" fill="#333" stroke="#333" stroke-width="0.18">20</text>
<line x1="473.20" y1="545.20" x2="473.20" y2="543.90" stroke="#444" stroke-width="0.5"/>
<line x1="473.20" y1="419.34" x2="473.20" y2="420.64" stroke="#444" stroke-width="0.5"/>
<line x1="371.70" y1="443.70" x2="373.00" y2="443.70" stroke="#444" stroke-width="0.5"/>
<line x1="497.56" y1="443.70" x2="496.26" y2="443.70" stroke="#444" stroke-width="0.5"/>
<text x="473.20" y="551.50" font-size="5.0" text-anchor="middle" fill="#333" stroke="#333" stroke-width="0.18">25</text>
<text x="369.70" y="446.00" font-size="5.0" text-anchor="end" fill="#333" stroke="#333" stroke-width="0.18">25</text>
<line x1="493.50" y1="545.20" x2="493.50" y2="543.90" stroke="#444" stroke-width="0.5"/>
<line x1="493.50" y1="419.34" x2="493.50" y2="420.64" stroke="#444" stroke-width="0.5"/>
<line x1="371.70" y1="423.40" x2="373.00" y2="423.40" stroke="#444" stroke-width="0.5"/>
<line x1="497.56" y1="423.40" x2="496.26" y2="423.40" stroke="#444" stroke-width="0.5"/>
<text x="493.50" y="551.50" font-size="5.0" text-anchor="middle" fill="#333" stroke="#333" stroke-width="0.18">30</text>
<text x="369.70" y="425.70" font-size="5.0" text-anchor="end" fill="#333" stroke="#333" stroke-width="0.18">30</text>
<text x="379.54" y="461.53" font-size="5.6" text-anchor="middle" fill="#222" stroke="#222" stroke-width="0.18">E</text>
<text x="406.62" y="461.53" font-size="5.6" text-anchor="middle" fill="#222" stroke="#222" stroke-width="0.18">C</text>
<text x="435.85" y="461.53" font-size="5.6" text-anchor="middle" fill="#222" stroke="#222" stroke-width="0.18">B</text>
<text x="458.99" y="488.74" font-size="5.6" text-anchor="middle" fill="#222" stroke="#222" stroke-width="0.18">B</text>
<text x="379.54" y="513.50" font-size="5.6" text-anchor="middle" fill="#222" stroke="#222" stroke-width="0.18">D</text>
<text x="458.99" y="520.81" font-size="5.6" text-anchor="middle" fill="#222" stroke="#222" stroke-width="0.18">D</text>
<text x="379.54" y="542.73" font-size="5.6" text-anchor="middle" fill="#222" stroke="#222" stroke-width="0.18">A</text>
<text x="409.05" y="542.73" font-size="5.6" text-anchor="middle" fill="#222" stroke="#222" stroke-width="0.18">C</text>
<text x="458.99" y="542.73" font-size="5.6" text-anchor="middle" fill="#222" stroke="#222" stroke-width="0.18">E</text>
<text x="434.63" y="417.54" font-size="5.7" text-anchor="middle" fill="#222" stroke="#222" stroke-width="0.18">With Na<tspan font-size="3.6" dy="-2">+</tspan><tspan dy="2"> and pH calibration</tspan></text>
<text x="434.63" y="558.20" font-size="5.6" text-anchor="middle" fill="#333" stroke="#333" stroke-width="0.18">Reference glucose (mM)</text>
<text x="363.40" y="482.27" font-size="5.3" text-anchor="middle" fill="#333" transform="rotate(-90 363.40 482.27)" stroke="#333" stroke-width="0.18">Predicted glucose (mM)</text>
<text x="341.20" y="421.64" font-size="14" text-anchor="start" fill="#000" font-weight="bold">j</text>
<rect x="545.15" y="320.00" width="20.30" height="51.60" fill="#95a4cd"/>
<rect x="545.15" y="283.74" width="20.30" height="36.26" fill="#f8c7bb"/>
<rect x="545.15" y="280.54" width="20.30" height="3.20" fill="#b7f2e2"/>
<rect x="590.65" y="319.17" width="20.30" height="52.43" fill="#95a4cd"/>
<rect x="590.65" y="283.74" width="20.30" height="35.44" fill="#f8c7bb"/>
<rect x="590.65" y="280.54" width="20.30" height="3.20" fill="#b7f2e2"/>
<rect x="636.35" y="300.82" width="20.30" height="70.78" fill="#95a4cd"/>
<rect x="636.35" y="280.54" width="20.30" height="20.28" fill="#f8c7bb"/>
<rect x="532.3" y="262.0" width="135.30" height="109.60" fill="none" stroke="#333" stroke-width="0.8"/>
<line x1="532.30" y1="371.60" x2="530.30" y2="371.60" stroke="#333" stroke-width="0.6"/>
<text x="529.30" y="373.90" font-size="5.3" text-anchor="end" fill="#333" stroke="#333" stroke-width="0.18">0</text>
<line x1="532.30" y1="362.47" x2="531.10" y2="362.47" stroke="#333" stroke-width="0.5"/>
<line x1="532.30" y1="353.33" x2="530.30" y2="353.33" stroke="#333" stroke-width="0.6"/>
<text x="529.30" y="355.63" font-size="5.3" text-anchor="end" fill="#333" stroke="#333" stroke-width="0.18">20</text>
<line x1="532.30" y1="344.20" x2="531.10" y2="344.20" stroke="#333" stroke-width="0.5"/>
<line x1="532.30" y1="335.07" x2="530.30" y2="335.07" stroke="#333" stroke-width="0.6"/>
<text x="529.30" y="337.37" font-size="5.3" text-anchor="end" fill="#333" stroke="#333" stroke-width="0.18">40</text>
<line x1="532.30" y1="325.93" x2="531.10" y2="325.93" stroke="#333" stroke-width="0.5"/>
<line x1="532.30" y1="316.80" x2="530.30" y2="316.80" stroke="#333" stroke-width="0.6"/>
<text x="529.30" y="319.10" font-size="5.3" text-anchor="end" fill="#333" stroke="#333" stroke-width="0.18">60</text>
<line x1="532.30" y1="307.67" x2="531.10" y2="307.67" stroke="#333" stroke-width="0.5"/>
<line x1="532.30" y1="298.53" x2="530.30" y2="298.53" stroke="#333" stroke-width="0.6"/>
<text x="529.30" y="300.83" font-size="5.3" text-anchor="end" fill="#333" stroke="#333" stroke-width="0.18">80</text>
<line x1="532.30" y1="289.40" x2="531.10" y2="289.40" stroke="#333" stroke-width="0.5"/>
<line x1="532.30" y1="280.27" x2="530.30" y2="280.27" stroke="#333" stroke-width="0.6"/>
<text x="529.30" y="282.57" font-size="5.3" text-anchor="end" fill="#333" stroke="#333" stroke-width="0.18">100</text>
<line x1="532.30" y1="271.13" x2="531.10" y2="271.13" stroke="#333" stroke-width="0.5"/>
<line x1="532.30" y1="262.00" x2="530.30" y2="262.00" stroke="#333" stroke-width="0.6"/>
<text x="529.30" y="264.30" font-size="5.3" text-anchor="end" fill="#333" stroke="#333" stroke-width="0.18">120</text>
<line x1="666.40" y1="371.60" x2="668.80" y2="371.60" stroke="#333" stroke-width="0.6"/>
<text x="669.60" y="373.90" font-size="5.3" text-anchor="start" fill="#2b4b9b" stroke="#2b4b9b" stroke-width="0.18">0</text>
<line x1="666.40" y1="353.33" x2="668.80" y2="353.33" stroke="#333" stroke-width="0.6"/>
<text x="669.60" y="355.63" font-size="5.3" text-anchor="start" fill="#2b4b9b" stroke="#2b4b9b" stroke-width="0.18">5</text>
<line x1="666.40" y1="335.07" x2="668.80" y2="335.07" stroke="#333" stroke-width="0.6"/>
<text x="669.60" y="337.37" font-size="5.3" text-anchor="start" fill="#2b4b9b" stroke="#2b4b9b" stroke-width="0.18">10</text>
<line x1="666.40" y1="316.80" x2="668.80" y2="316.80" stroke="#333" stroke-width="0.6"/>
<text x="669.60" y="319.10" font-size="5.3" text-anchor="start" fill="#2b4b9b" stroke="#2b4b9b" stroke-width="0.18">15</text>
<line x1="666.40" y1="298.53" x2="668.80" y2="298.53" stroke="#333" stroke-width="0.6"/>
<text x="669.60" y="300.83" font-size="5.3" text-anchor="start" fill="#2b4b9b" stroke="#2b4b9b" stroke-width="0.18">20</text>
<line x1="666.40" y1="280.27" x2="668.80" y2="280.27" stroke="#333" stroke-width="0.6"/>
<text x="669.60" y="282.57" font-size="5.3" text-anchor="start" fill="#2b4b9b" stroke="#2b4b9b" stroke-width="0.18">25</text>
<line x1="666.40" y1="262.00" x2="668.80" y2="262.00" stroke="#333" stroke-width="0.6"/>
<text x="669.60" y="264.30" font-size="5.3" text-anchor="start" fill="#2b4b9b" stroke="#2b4b9b" stroke-width="0.18">30</text>
<line x1="666.80" y1="362.47" x2="668.40" y2="362.47" stroke="#333" stroke-width="0.5"/>
<line x1="666.80" y1="344.20" x2="668.40" y2="344.20" stroke="#333" stroke-width="0.5"/>
<line x1="666.80" y1="325.93" x2="668.40" y2="325.93" stroke="#333" stroke-width="0.5"/>
<line x1="666.80" y1="307.67" x2="668.40" y2="307.67" stroke="#333" stroke-width="0.5"/>
<line x1="666.80" y1="289.40" x2="668.40" y2="289.40" stroke="#333" stroke-width="0.5"/>
<line x1="666.80" y1="271.13" x2="668.40" y2="271.13" stroke="#333" stroke-width="0.5"/>
<line x1="555.30" y1="371.60" x2="555.30" y2="373.40" stroke="#333" stroke-width="0.6"/>
<line x1="555.30" y1="262.00" x2="555.30" y2="263.50" stroke="#333" stroke-width="0.5"/>
<line x1="600.80" y1="371.60" x2="600.80" y2="373.40" stroke="#333" stroke-width="0.6"/>
<line x1="600.80" y1="262.00" x2="600.80" y2="263.50" stroke="#333" stroke-width="0.5"/>
<line x1="646.50" y1="371.60" x2="646.50" y2="373.40" stroke="#333" stroke-width="0.6"/>
<line x1="646.50" y1="262.00" x2="646.50" y2="263.50" stroke="#333" stroke-width="0.5"/>
<line x1="578.05" y1="371.60" x2="578.05" y2="372.80" stroke="#333" stroke-width="0.5"/>
<line x1="578.05" y1="262.00" x2="578.05" y2="263.00" stroke="#333" stroke-width="0.5"/>
<line x1="623.65" y1="371.60" x2="623.65" y2="372.80" stroke="#333" stroke-width="0.5"/>
<line x1="623.65" y1="262.00" x2="623.65" y2="263.00" stroke="#333" stroke-width="0.5"/>
<polyline points="555.30,278.48 600.80,298.39 646.50,331.74" fill="none" stroke="#2b4b9b" stroke-width="0.8"/>
<circle cx="555.30" cy="278.48" r="1.2" fill="#2b4b9b"/>
<circle cx="600.80" cy="298.39" r="1.2" fill="#2b4b9b"/>
<circle cx="646.50" cy="331.74" r="1.2" fill="#2b4b9b"/>
<text x="553.60" y="276.40" font-size="6.4" text-anchor="middle" fill="#222" stroke="#222" stroke-width="0.18">25.49%</text>
<text x="601.50" y="292.90" font-size="6.4" text-anchor="middle" fill="#222" stroke="#222" stroke-width="0.18">20.04%</text>
<text x="646.50" y="323.50" font-size="6.4" text-anchor="middle" fill="#222" stroke="#222" stroke-width="0.18">10.91%</text>
<rect x="584.00" y="265.00" width="8.60" height="3.60" fill="#95a4cd"/>
<text x="593.80" y="268.20" font-size="4.1" text-anchor="start" fill="#333">Zone A</text>
<rect x="608.00" y="265.00" width="8.60" height="3.60" fill="#f8c7bb"/>
<text x="617.80" y="268.20" font-size="4.1" text-anchor="start" fill="#333">Zone B</text>
<rect x="632.80" y="265.00" width="8.60" height="3.60" fill="#b7f2e2"/>
<text x="642.60" y="268.20" font-size="4.1" text-anchor="start" fill="#333">Zone C</text>
<text x="555.30" y="383.30" font-size="5.6" text-anchor="middle" dominant-baseline="central" fill="#333" transform="rotate(31 555.30 383.30)" stroke="#333" stroke-width="0.18">w/o calibration</text>
<text x="599.90" y="385.00" font-size="5.6" text-anchor="middle" dominant-baseline="central" fill="#333" transform="rotate(31 599.90 385.00)" stroke="#333" stroke-width="0.18">w Na<tspan font-size="3.6" dy="-2">+</tspan><tspan dy="2"> calibration</tspan></text>
<text x="648.30" y="390.80" font-size="5.6" text-anchor="middle" dominant-baseline="central" fill="#333" transform="rotate(31 648.30 390.80)" stroke="#333" stroke-width="0.18">w Na<tspan font-size="3.6" dy="-2">+</tspan><tspan dy="2"> and pH calibration</tspan></text>
<text x="516.90" y="317.30" font-size="5.9" text-anchor="middle" fill="#222" transform="rotate(-90 516.90 317.30)" stroke="#222" stroke-width="0.18">Percentage in zones (%)</text>
<text x="683.00" y="316.00" font-size="6.3" text-anchor="middle" fill="#2b4b9b" transform="rotate(-90 683.00 316.00)" stroke="#2b4b9b" stroke-width="0.18">MARD (%)</text>
<text x="515.20" y="258.40" font-size="14" text-anchor="start" fill="#000" font-weight="bold">g</text>
<rect x="546.25" y="504.91" width="19.50" height="22.29" fill="#95a4cd"/>
<rect x="546.25" y="466.74" width="19.50" height="38.17" fill="#f8c7bb"/>
<rect x="546.25" y="454.24" width="19.50" height="12.49" fill="#b7f2e2"/>
<rect x="546.25" y="440.54" width="19.50" height="13.71" fill="#eef5b8"/>
<rect x="589.25" y="494.06" width="19.50" height="33.14" fill="#95a4cd"/>
<rect x="589.25" y="469.16" width="19.50" height="24.90" fill="#f8c7bb"/>
<rect x="589.25" y="455.89" width="19.50" height="13.27" fill="#b7f2e2"/>
<rect x="589.25" y="442.62" width="19.50" height="13.27" fill="#eef5b8"/>
<rect x="589.25" y="440.45" width="19.50" height="2.17" fill="#e3b5f6"/>
<rect x="632.25" y="469.16" width="19.50" height="58.04" fill="#95a4cd"/>
<rect x="632.25" y="449.30" width="19.50" height="19.87" fill="#f8c7bb"/>
<rect x="632.25" y="445.74" width="19.50" height="3.56" fill="#b7f2e2"/>
<rect x="632.25" y="440.45" width="19.50" height="5.29" fill="#eef5b8"/>
<rect x="534.6" y="423.1" width="129.10" height="104.10" fill="none" stroke="#333" stroke-width="0.8"/>
<line x1="534.60" y1="527.20" x2="532.60" y2="527.20" stroke="#333" stroke-width="0.6"/>
<text x="531.60" y="529.50" font-size="5.3" text-anchor="end" fill="#333" stroke="#333" stroke-width="0.18">0</text>
<line x1="534.60" y1="518.53" x2="533.40" y2="518.53" stroke="#333" stroke-width="0.5"/>
<line x1="534.60" y1="509.85" x2="532.60" y2="509.85" stroke="#333" stroke-width="0.6"/>
<text x="531.60" y="512.15" font-size="5.3" text-anchor="end" fill="#333" stroke="#333" stroke-width="0.18">20</text>
<line x1="534.60" y1="501.18" x2="533.40" y2="501.18" stroke="#333" stroke-width="0.5"/>
<line x1="534.60" y1="492.50" x2="532.60" y2="492.50" stroke="#333" stroke-width="0.6"/>
<text x="531.60" y="494.80" font-size="5.3" text-anchor="end" fill="#333" stroke="#333" stroke-width="0.18">40</text>
<line x1="534.60" y1="483.83" x2="533.40" y2="483.83" stroke="#333" stroke-width="0.5"/>
<line x1="534.60" y1="475.15" x2="532.60" y2="475.15" stroke="#333" stroke-width="0.6"/>
<text x="531.60" y="477.45" font-size="5.3" text-anchor="end" fill="#333" stroke="#333" stroke-width="0.18">60</text>
<line x1="534.60" y1="466.48" x2="533.40" y2="466.48" stroke="#333" stroke-width="0.5"/>
<line x1="534.60" y1="457.80" x2="532.60" y2="457.80" stroke="#333" stroke-width="0.6"/>
<text x="531.60" y="460.10" font-size="5.3" text-anchor="end" fill="#333" stroke="#333" stroke-width="0.18">80</text>
<line x1="534.60" y1="449.12" x2="533.40" y2="449.12" stroke="#333" stroke-width="0.5"/>
<line x1="534.60" y1="440.45" x2="532.60" y2="440.45" stroke="#333" stroke-width="0.6"/>
<text x="531.60" y="442.75" font-size="5.3" text-anchor="end" fill="#333" stroke="#333" stroke-width="0.18">100</text>
<line x1="534.60" y1="431.78" x2="533.40" y2="431.78" stroke="#333" stroke-width="0.5"/>
<line x1="534.60" y1="423.10" x2="532.60" y2="423.10" stroke="#333" stroke-width="0.6"/>
<text x="531.60" y="425.40" font-size="5.3" text-anchor="end" fill="#333" stroke="#333" stroke-width="0.18">120</text>
<line x1="662.50" y1="527.20" x2="664.90" y2="527.20" stroke="#333" stroke-width="0.6"/>
<text x="665.70" y="529.50" font-size="5.3" text-anchor="start" fill="#2b4b9b" stroke="#2b4b9b" stroke-width="0.18">15</text>
<line x1="662.50" y1="509.85" x2="664.90" y2="509.85" stroke="#333" stroke-width="0.6"/>
<text x="665.70" y="512.15" font-size="5.3" text-anchor="start" fill="#2b4b9b" stroke="#2b4b9b" stroke-width="0.18">20</text>
<line x1="662.50" y1="492.50" x2="664.90" y2="492.50" stroke="#333" stroke-width="0.6"/>
<text x="665.70" y="494.80" font-size="5.3" text-anchor="start" fill="#2b4b9b" stroke="#2b4b9b" stroke-width="0.18">25</text>
<line x1="662.50" y1="475.15" x2="664.90" y2="475.15" stroke="#333" stroke-width="0.6"/>
<text x="665.70" y="477.45" font-size="5.3" text-anchor="start" fill="#2b4b9b" stroke="#2b4b9b" stroke-width="0.18">30</text>
<line x1="662.50" y1="457.80" x2="664.90" y2="457.80" stroke="#333" stroke-width="0.6"/>
<text x="665.70" y="460.10" font-size="5.3" text-anchor="start" fill="#2b4b9b" stroke="#2b4b9b" stroke-width="0.18">35</text>
<line x1="662.50" y1="440.45" x2="664.90" y2="440.45" stroke="#333" stroke-width="0.6"/>
<text x="665.70" y="442.75" font-size="5.3" text-anchor="start" fill="#2b4b9b" stroke="#2b4b9b" stroke-width="0.18">40</text>
<line x1="662.50" y1="423.10" x2="664.90" y2="423.10" stroke="#333" stroke-width="0.6"/>
<text x="665.70" y="425.40" font-size="5.3" text-anchor="start" fill="#2b4b9b" stroke="#2b4b9b" stroke-width="0.18">45</text>
<line x1="662.90" y1="518.53" x2="664.50" y2="518.53" stroke="#333" stroke-width="0.5"/>
<line x1="662.90" y1="501.18" x2="664.50" y2="501.18" stroke="#333" stroke-width="0.5"/>
<line x1="662.90" y1="483.83" x2="664.50" y2="483.83" stroke="#333" stroke-width="0.5"/>
<line x1="662.90" y1="466.48" x2="664.50" y2="466.48" stroke="#333" stroke-width="0.5"/>
<line x1="662.90" y1="449.12" x2="664.50" y2="449.12" stroke="#333" stroke-width="0.5"/>
<line x1="662.90" y1="431.78" x2="664.50" y2="431.78" stroke="#333" stroke-width="0.5"/>
<line x1="556.00" y1="527.20" x2="556.00" y2="529.00" stroke="#333" stroke-width="0.6"/>
<line x1="556.00" y1="423.10" x2="556.00" y2="424.60" stroke="#333" stroke-width="0.5"/>
<line x1="599.00" y1="527.20" x2="599.00" y2="529.00" stroke="#333" stroke-width="0.6"/>
<line x1="599.00" y1="423.10" x2="599.00" y2="424.60" stroke="#333" stroke-width="0.5"/>
<line x1="642.00" y1="527.20" x2="642.00" y2="529.00" stroke="#333" stroke-width="0.6"/>
<line x1="642.00" y1="423.10" x2="642.00" y2="424.60" stroke="#333" stroke-width="0.5"/>
<line x1="577.50" y1="527.20" x2="577.50" y2="528.40" stroke="#333" stroke-width="0.5"/>
<line x1="577.50" y1="423.10" x2="577.50" y2="424.10" stroke="#333" stroke-width="0.5"/>
<line x1="620.50" y1="527.20" x2="620.50" y2="528.40" stroke="#333" stroke-width="0.5"/>
<line x1="620.50" y1="423.10" x2="620.50" y2="424.10" stroke="#333" stroke-width="0.5"/>
<polyline points="556.00,433.13 599.00,463.91 642.00,516.44" fill="none" stroke="#2b4b9b" stroke-width="0.8"/>
<circle cx="556.00" cy="433.13" r="1.2" fill="#2b4b9b"/>
<circle cx="599.00" cy="463.91" r="1.2" fill="#2b4b9b"/>
<circle cx="642.00" cy="516.44" r="1.2" fill="#2b4b9b"/>
<text x="550.80" y="431.20" font-size="6.2" text-anchor="middle" fill="#2b4b9b" stroke="#2b4b9b" stroke-width="0.18">42.11%</text>
<text x="599.00" y="454.80" font-size="6.2" text-anchor="middle" fill="#7a7a30" stroke="#7a7a30" stroke-width="0.18">33.24%</text>
<text x="642.70" y="505.90" font-size="6.2" text-anchor="middle" fill="#2b4b9b" stroke="#2b4b9b" stroke-width="0.18">18.10%</text>
<rect x="585.60" y="426.20" width="8.60" height="3.60" fill="#95a4cd"/>
<text x="595.40" y="429.40" font-size="4.1" text-anchor="start" fill="#333">Zone A</text>
<rect x="611.30" y="426.20" width="8.60" height="3.60" fill="#f8c7bb"/>
<text x="621.10" y="429.40" font-size="4.1" text-anchor="start" fill="#333">Zone B</text>
<rect x="636.70" y="426.20" width="8.60" height="3.60" fill="#b7f2e2"/>
<text x="646.50" y="429.40" font-size="4.1" text-anchor="start" fill="#333">Zone C</text>
<rect x="585.60" y="431.40" width="8.60" height="3.60" fill="#eef5b8"/>
<text x="595.40" y="434.60" font-size="4.1" text-anchor="start" fill="#333">Zone D</text>
<rect x="611.30" y="431.40" width="8.60" height="3.60" fill="#e3b5f6"/>
<text x="621.10" y="434.60" font-size="4.1" text-anchor="start" fill="#333">Zone E</text>
<text x="558.20" y="544.00" font-size="6.15" text-anchor="middle" dominant-baseline="central" fill="#333" transform="rotate(31 558.20 544.00)" stroke="#333" stroke-width="0.18">w/o calibration</text>
<text x="601.60" y="545.20" font-size="6.15" text-anchor="middle" dominant-baseline="central" fill="#333" transform="rotate(31 601.60 545.20)" stroke="#333" stroke-width="0.18">w Na<tspan font-size="3.6" dy="-2">+</tspan><tspan dy="2"> calibration</tspan></text>
<text x="650.50" y="550.80" font-size="6.15" text-anchor="middle" dominant-baseline="central" fill="#333" transform="rotate(31 650.50 550.80)" stroke="#333" stroke-width="0.18">w Na<tspan font-size="3.6" dy="-2">+</tspan><tspan dy="2"> and pH calibration</tspan></text>
<text x="518.10" y="474.20" font-size="6.9" text-anchor="middle" fill="#222" transform="rotate(-90 518.10 474.20)" stroke="#222" stroke-width="0.18">Percentage in zones (%)</text>
<text x="676.90" y="474.60" font-size="5.9" text-anchor="middle" fill="#2b4b9b" transform="rotate(-90 676.90 474.60)" stroke="#2b4b9b" stroke-width="0.18">MARD (%)</text>
<text x="515.00" y="422.20" font-size="14" text-anchor="start" fill="#000" font-weight="bold">k</text>
</svg>
</body></html>
